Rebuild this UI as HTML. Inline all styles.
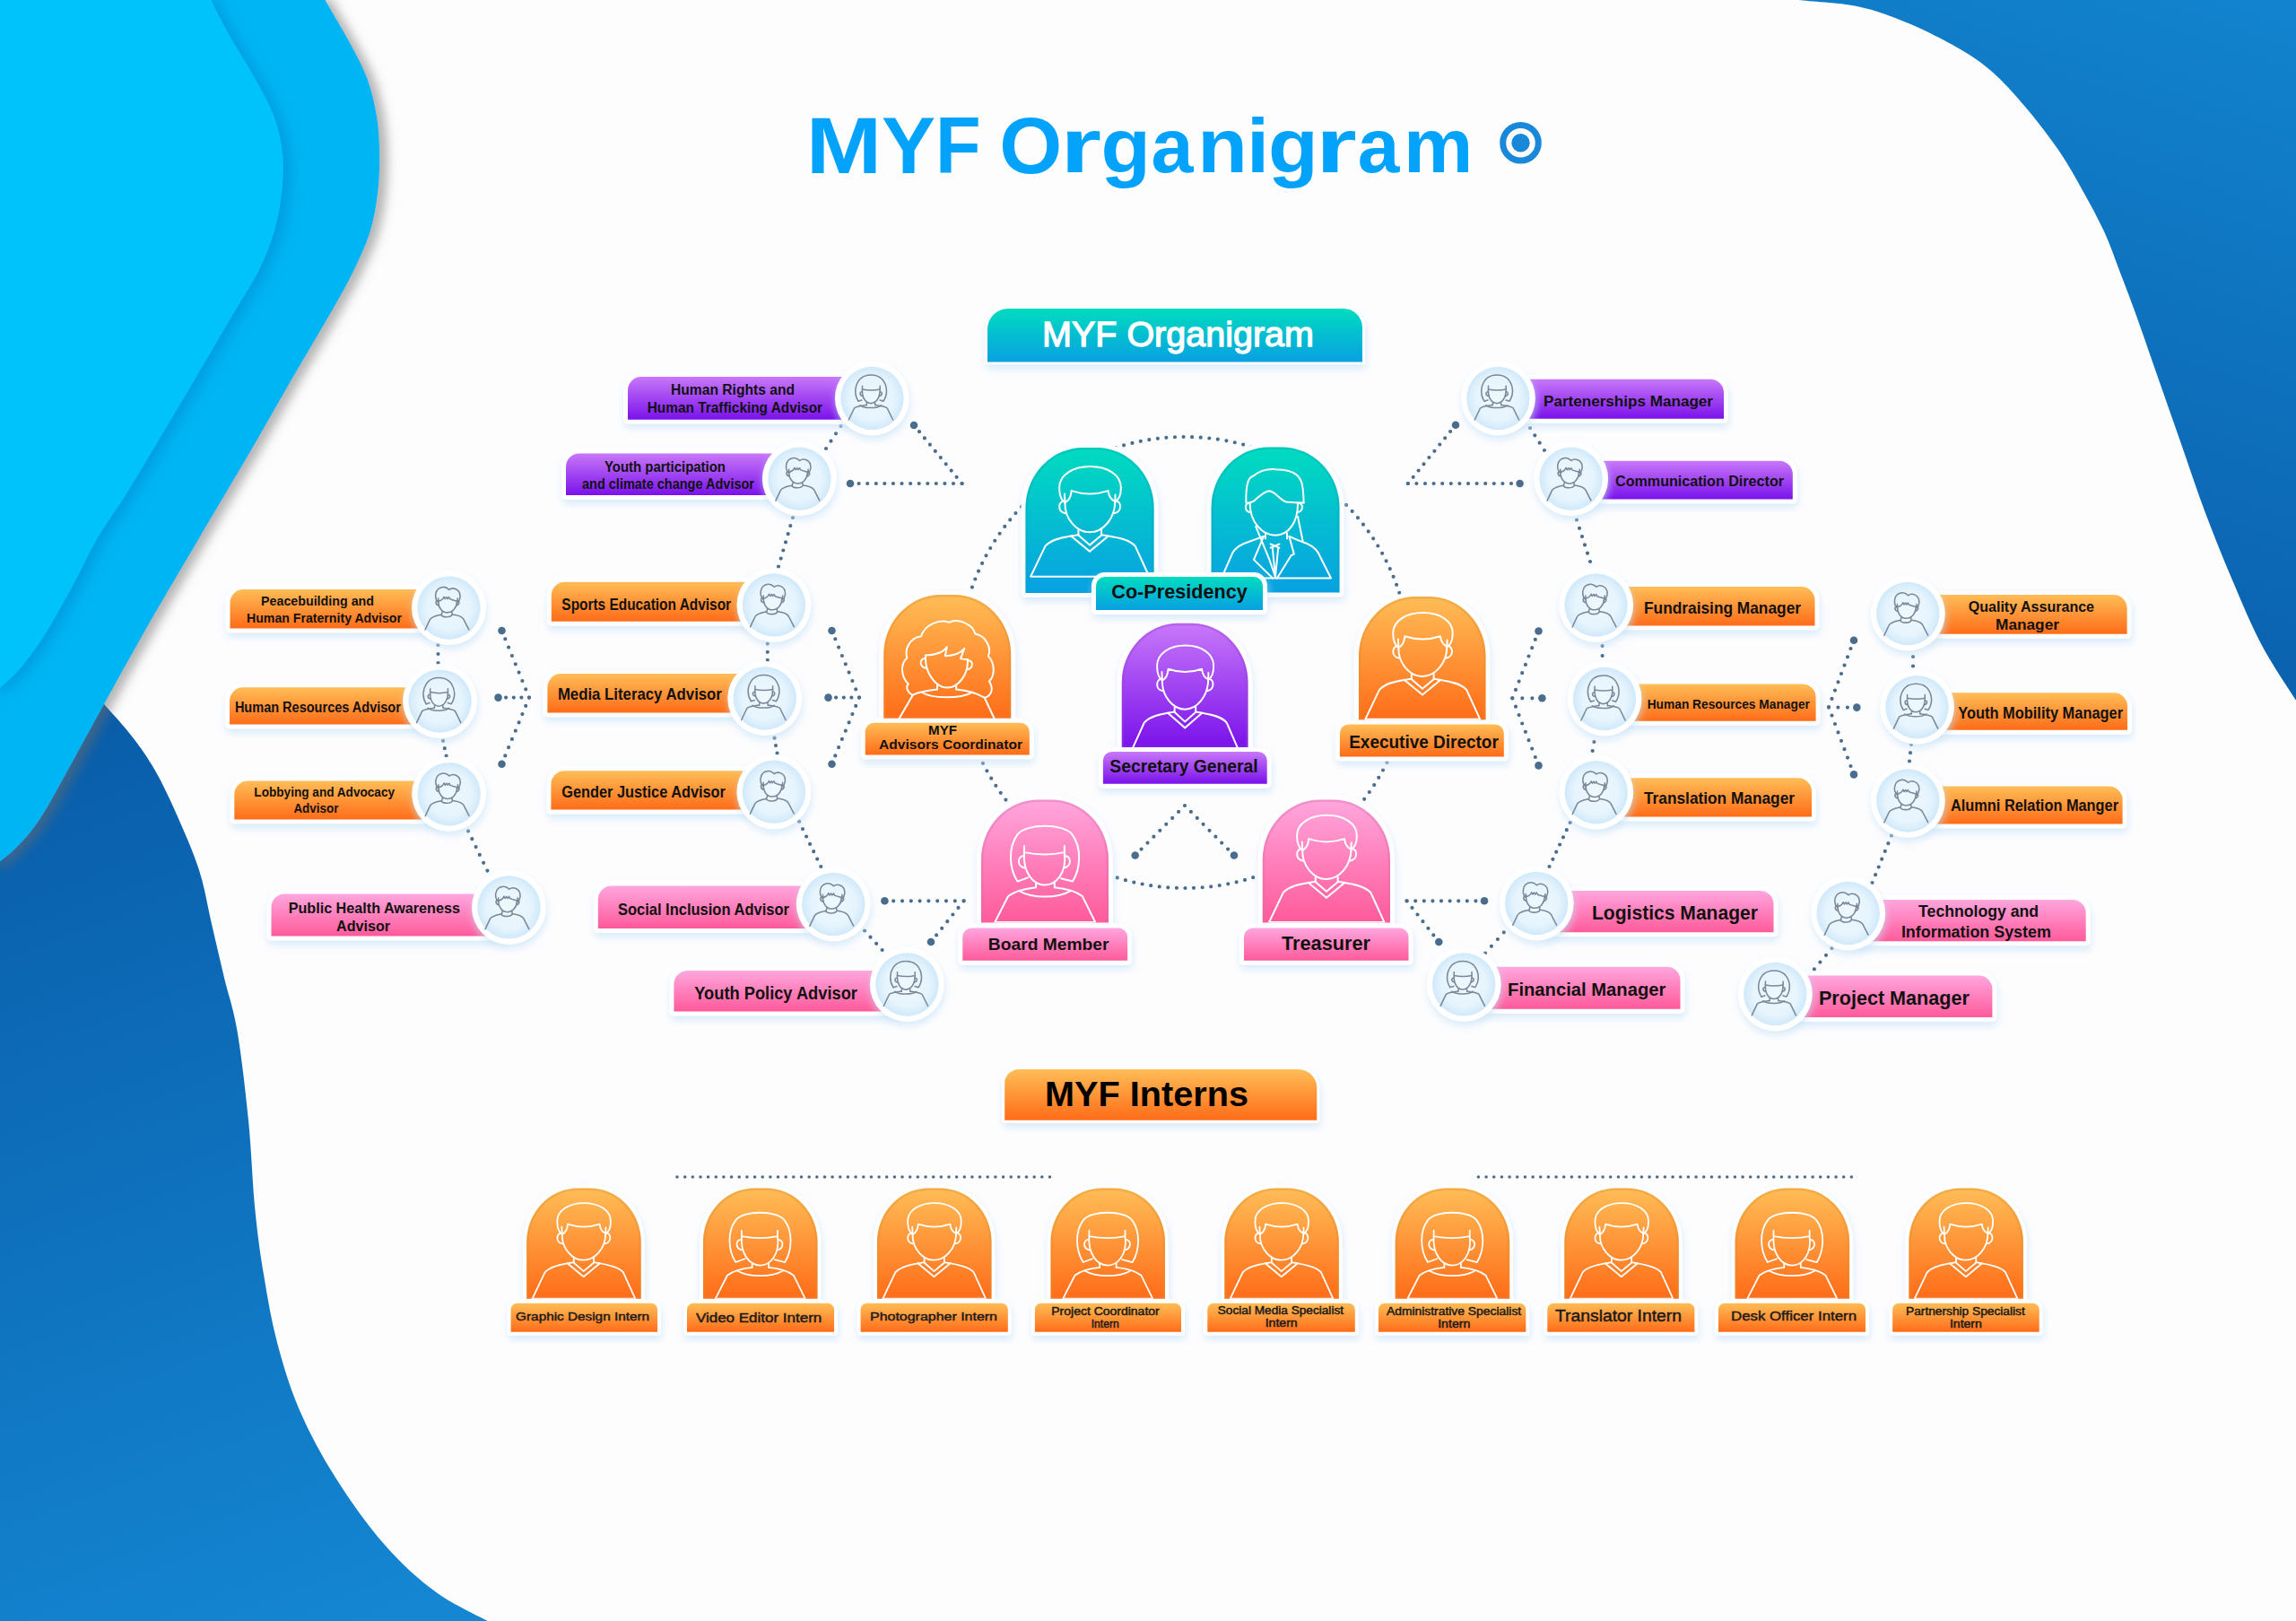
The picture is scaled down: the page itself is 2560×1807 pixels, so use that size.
<!DOCTYPE html>
<html><head><meta charset="utf-8"><title>MYF Organigram</title>
<style>html,body{margin:0;padding:0;background:#fdfdfe;overflow:hidden}svg{display:block}
text{font-family:"Liberation Sans",sans-serif}</style></head>
<body>
<svg width="2560" height="1807" viewBox="0 0 2560 1807">
<defs><linearGradient id="g_teal" x1="0" y1="0" x2="0" y2="1"><stop offset="0" stop-color="#00dcbf"/><stop offset="1" stop-color="#08a0e2"/></linearGradient><linearGradient id="g_orange" x1="0" y1="0" x2="0" y2="1"><stop offset="0" stop-color="#ffbd57"/><stop offset="1" stop-color="#ff6c18"/></linearGradient><linearGradient id="g_purple" x1="0" y1="0" x2="0" y2="1"><stop offset="0" stop-color="#c878fa"/><stop offset="1" stop-color="#7a12ea"/></linearGradient><linearGradient id="g_pink" x1="0" y1="0" x2="0" y2="1"><stop offset="0" stop-color="#ffa6de"/><stop offset="1" stop-color="#ff5a9a"/></linearGradient><linearGradient id="g_dark" x1="0" y1="700" x2="420" y2="1807" gradientUnits="userSpaceOnUse"><stop offset="0" stop-color="#0858a4"/><stop offset="1" stop-color="#1486d2"/></linearGradient><linearGradient id="g_right" x1="2560" y1="0" x2="2300" y2="780" gradientUnits="userSpaceOnUse"><stop offset="0" stop-color="#1284cf"/><stop offset="1" stop-color="#0a5eab"/></linearGradient><radialGradient id="g_circ" cx="0.5" cy="0.5" r="0.5"><stop offset="0" stop-color="#eef8fe"/><stop offset="0.7" stop-color="#e6f4fd"/><stop offset="1" stop-color="#d0e9fa"/></radialGradient><filter id="sh_grey" x="-20%" y="-5%" width="140%" height="110%"><feDropShadow dx="9" dy="3" stdDeviation="6" flood-color="#6a6a6a" flood-opacity="0.5"/></filter><filter id="sh_blue" x="-20%" y="-5%" width="140%" height="110%"><feDropShadow dx="8" dy="3" stdDeviation="8" flood-color="#0078c0" flood-opacity="0.4"/></filter><filter id="sh_card" x="-20%" y="-30%" width="140%" height="170%"><feDropShadow dx="1" dy="5" stdDeviation="4" flood-color="#c6e2f7" flood-opacity="0.65"/></filter></defs>
<rect width="2560" height="1807" fill="#fdfdfe"/>
<path d="M2005.9,-2 C2005.9,-1.7 1994.8,-1.6 2005.9,0 C2017,1.6 2052.2,3.1 2072.5,7.4 C2092.8,11.7 2109.5,18.2 2128,25.9 C2146.5,33.6 2168.2,44.8 2183.6,53.7 C2199,62.7 2208.3,68.8 2220.6,79.6 C2232.9,90.4 2245.2,104 2257.6,118.5 C2269.9,133 2283.9,150.9 2294.7,166.6 C2305.5,182.3 2313.8,197.5 2322.4,212.9 C2331,228.3 2339.6,243.9 2346.5,259.1 C2353.4,274.3 2358.3,289.2 2364,304 C2369.7,318.8 2373.5,328.3 2380.6,348 C2387.7,367.7 2397.9,397.3 2406.5,422 C2415.1,446.7 2423.8,471.3 2432.4,496 C2441,520.7 2449.1,545.3 2458.3,570 C2467.6,594.7 2477.4,619.3 2487.9,644 C2498.4,668.7 2509.2,695.2 2521.2,718 C2533.2,740.8 2551.9,768 2560,780.8 C2568.1,793.6 2568.3,792.6 2570,795 L2570,-2 Z" fill="url(#g_right)"/>
<path d="M0,640 C11.7,655.8 50.7,710.8 70,735 C89.3,759.2 103,770.5 116,785 C129,799.5 138.5,809.7 148,822 C157.5,834.3 164.8,844.7 173,859 C181.2,873.3 188.8,889.5 197,908 C205.2,926.5 215.5,949.7 222,970 C228.5,990.3 231.3,1010 236,1030 C240.7,1050 245.2,1070.1 250,1090 C254.8,1109.9 260,1122.8 264.5,1149.3 C269,1175.8 273.7,1215.8 277,1249 C280.3,1282.2 281.5,1319.4 284.4,1348.4 C287.3,1377.4 290.2,1398.1 294.4,1423 C298.5,1447.9 302.7,1472.9 309.3,1497.8 C315.9,1522.7 323.4,1547.5 334.2,1572.4 C345,1597.3 358.2,1622.1 374,1647 C389.8,1671.9 409.6,1700.2 428.7,1721.8 C447.8,1743.4 466.6,1761 488.5,1776.5 C510.4,1792 548.1,1808.6 560,1815 L0,1815 Z" fill="url(#g_dark)"/>
<path d="M362.7,-5 C362.7,-4.2 358.6,-8 362.7,0 C366.8,8 379.8,28.8 387.5,43.2 C395.2,57.6 403.6,72 409,86.4 C414.4,100.8 417.6,115.2 420,129.6 C422.4,144 423,158.3 423.2,172.7 C423.4,187.1 422.8,201.6 421,216 C419.2,230.4 416.9,244.6 412.4,259 C407.9,273.4 401.4,287.1 394,302.3 C386.6,317.5 379.7,329.6 368,350 C356.3,370.4 338.5,400 324,425 C309.5,450 298,470.8 281,500 C264,529.2 240.8,568 222,600 C203.2,632 185.7,661.2 168,692 C150.3,722.8 131.7,756.8 116,785 C100.3,813.2 85.9,840.2 74,861.5 C62.1,882.8 53.7,899.1 44.4,913 C35.1,926.9 27.1,935.8 18,945 C8.9,954.2 -5.3,964.2 -10,968 L-10,-5 Z" fill="#00b5f4" filter="url(#sh_grey)"/>
<path d="M235.3,-5 C235.3,-4.2 231.5,-8 235.3,0 C239.1,8 249.9,28.8 258,43.2 C266.1,57.6 276,72 283.9,86.4 C291.8,100.8 300.3,115.2 305.5,129.6 C310.7,144 313.8,158.3 315.2,172.7 C316.6,187.1 315.6,201.6 314,216 C312.4,230.4 309.8,244.6 305.5,259 C301.2,273.4 295.8,287.1 288.2,302.3 C280.6,317.5 272,329.6 260,350 C248,370.4 230.8,400 216,425 C201.2,450 184.1,478.8 171.4,500 C158.7,521.2 150.5,535.3 140,552 C129.5,568.7 118.6,582.8 108.6,600 C98.6,617.2 89.9,636.9 80,655 C70.1,673.1 59.3,693.1 49.3,708.6 C39.3,724.1 29.9,736.9 20,748 C10.1,759.1 -5,770.5 -10,775 L-10,-5 Z" fill="#00c3fb" filter="url(#sh_blue)"/>
<text x="940.9" y="192.5" font-family="Liberation Sans" font-size="89.3" font-weight="bold" fill="#03a3fc" text-anchor="middle" textLength="84.4" lengthAdjust="spacingAndGlyphs">M</text>
<text x="1013.1" y="192.5" font-family="Liberation Sans" font-size="89.3" font-weight="bold" fill="#03a3fc" text-anchor="middle" textLength="60" lengthAdjust="spacingAndGlyphs">Y</text>
<text x="1068.3" y="192.5" font-family="Liberation Sans" font-size="89.3" font-weight="bold" fill="#03a3fc" text-anchor="middle" textLength="50.6" lengthAdjust="spacingAndGlyphs">F</text>
<text x="1149.2" y="192.5" font-family="Liberation Sans" font-size="89.3" font-weight="bold" fill="#03a3fc" text-anchor="middle" textLength="70" lengthAdjust="spacingAndGlyphs">O</text>
<text x="1205.2" y="192.5" font-family="Liberation Sans" font-size="89.3" font-weight="bold" fill="#03a3fc" text-anchor="middle" textLength="45.8" lengthAdjust="spacingAndGlyphs" transform="translate(0,192.5) scale(1,0.953) translate(0,-192.5)">r</text>
<text x="1255.3" y="192.5" font-family="Liberation Sans" font-size="89.3" font-weight="bold" fill="#03a3fc" text-anchor="middle" textLength="55.4" lengthAdjust="spacingAndGlyphs" transform="translate(0,192.5) scale(1,0.953) translate(0,-192.5)">g</text>
<text x="1307.1" y="192.5" font-family="Liberation Sans" font-size="89.3" font-weight="bold" fill="#03a3fc" text-anchor="middle" textLength="47" lengthAdjust="spacingAndGlyphs" transform="translate(0,192.5) scale(1,0.953) translate(0,-192.5)">a</text>
<text x="1363" y="192.5" font-family="Liberation Sans" font-size="89.3" font-weight="bold" fill="#03a3fc" text-anchor="middle" textLength="55.7" lengthAdjust="spacingAndGlyphs" transform="translate(0,192.5) scale(1,0.953) translate(0,-192.5)">n</text>
<text x="1402.5" y="192.5" font-family="Liberation Sans" font-size="89.3" font-weight="bold" fill="#03a3fc" text-anchor="middle" textLength="25.1" lengthAdjust="spacingAndGlyphs" transform="translate(0,192.5) scale(1,0.953) translate(0,-192.5)">i</text>
<text x="1441.8" y="192.5" font-family="Liberation Sans" font-size="89.3" font-weight="bold" fill="#03a3fc" text-anchor="middle" textLength="55.8" lengthAdjust="spacingAndGlyphs" transform="translate(0,192.5) scale(1,0.953) translate(0,-192.5)">g</text>
<text x="1489.8" y="192.5" font-family="Liberation Sans" font-size="89.3" font-weight="bold" fill="#03a3fc" text-anchor="middle" textLength="45.8" lengthAdjust="spacingAndGlyphs" transform="translate(0,192.5) scale(1,0.953) translate(0,-192.5)">r</text>
<text x="1537" y="192.5" font-family="Liberation Sans" font-size="89.3" font-weight="bold" fill="#03a3fc" text-anchor="middle" textLength="46.6" lengthAdjust="spacingAndGlyphs" transform="translate(0,192.5) scale(1,0.953) translate(0,-192.5)">a</text>
<text x="1603.7" y="192.5" font-family="Liberation Sans" font-size="89.3" font-weight="bold" fill="#03a3fc" text-anchor="middle" textLength="77.3" lengthAdjust="spacingAndGlyphs" transform="translate(0,192.5) scale(1,0.953) translate(0,-192.5)">m</text>
<circle cx="1695.5" cy="159.2" r="19.8" fill="none" stroke="#1a88d8" stroke-width="7"/>
<circle cx="1695.5" cy="159.2" r="10.2" fill="#1a88d8"/>
<circle cx="1321" cy="738.5" r="251.5" fill="none" stroke="#4a6d8e" stroke-width="4.2" stroke-linecap="round" stroke-dasharray="0 9.62"/>
<path d="M1265.7,953.5h0M1272.6,946.6h0M1279.5,939.6h0M1286.4,932.7h0M1293.3,925.8h0M1300.3,918.8h0M1307.2,911.9h0M1314.1,904.9h0M1321,898h0M1327.9,904.9h0M1334.8,911.9h0M1341.6,918.8h0M1348.5,925.8h0M1355.4,932.7h0M1362.2,939.6h0M1369.1,946.6h0M1376,953.5h0" fill="none" stroke="#4a6d8e" stroke-width="4.2" stroke-linecap="round"/>
<circle cx="1265.7" cy="953.5" r="4.3" fill="#4a6d8e"/>
<circle cx="1376" cy="953.5" r="4.3" fill="#4a6d8e"/>
<path d="M1019,474h0M1025,481.2h0M1030.9,488.4h0M1036.9,495.7h0M1042.8,502.9h0M1048.8,510.1h0M1054.7,517.3h0M1060.7,524.6h0M1066.6,531.8h0M1072.6,539h0" fill="none" stroke="#4a6d8e" stroke-width="4.2" stroke-linecap="round"/>
<circle cx="1019" cy="474" r="4.3" fill="#4a6d8e"/>
<path d="M948,539h0M957.6,539h0M967.2,539h0M976.8,539h0M986.3,539h0M995.9,539h0M1005.5,539h0M1015.1,539h0M1024.7,539h0M1034.3,539h0M1043.8,539h0M1053.4,539h0M1063,539h0M1072.6,539h0" fill="none" stroke="#4a6d8e" stroke-width="4.2" stroke-linecap="round"/>
<circle cx="948" cy="539" r="4.3" fill="#4a6d8e"/>
<path d="M937.5,475h0M932,483.3h0M926.5,491.7h0M921,500h0" fill="none" stroke="#4a6d8e" stroke-width="4.2" stroke-linecap="round"/>
<path d="M884,577h0M881.3,586.1h0M878.7,595.2h0M876,604.4h0M873.3,613.5h0M870.7,622.6h0M868,631.7h0" fill="none" stroke="#4a6d8e" stroke-width="4.2" stroke-linecap="round"/>
<path d="M1623,473.8h0M1617.1,481h0M1611.2,488.3h0M1605.3,495.5h0M1599.4,502.8h0M1593.4,510h0M1587.5,517.3h0M1581.6,524.5h0M1575.7,531.8h0M1569.8,539h0" fill="none" stroke="#4a6d8e" stroke-width="4.2" stroke-linecap="round"/>
<circle cx="1623" cy="473.8" r="4.3" fill="#4a6d8e"/>
<path d="M1569.8,539h0M1579.4,539h0M1589,539h0M1598.6,539h0M1608.2,539h0M1617.8,539h0M1627.4,539h0M1637,539h0M1646.6,539h0M1656.2,539h0M1665.8,539h0M1675.4,539h0M1685,539h0M1694.6,539h0" fill="none" stroke="#4a6d8e" stroke-width="4.2" stroke-linecap="round"/>
<circle cx="1694.6" cy="539" r="4.3" fill="#4a6d8e"/>
<path d="M1706,477h0M1711.3,485.3h0M1716.7,493.7h0M1722,502h0" fill="none" stroke="#4a6d8e" stroke-width="4.2" stroke-linecap="round"/>
<path d="M1758,579.5h0M1761,588.8h0M1764,598.1h0M1767,607.4h0M1770,616.7h0M1773,626h0" fill="none" stroke="#4a6d8e" stroke-width="4.2" stroke-linecap="round"/>
<path d="M559.5,703h0M563.3,712.3h0M567.1,721.6h0M570.9,731h0M574.8,740.3h0M578.6,749.6h0M582.4,759h0M586.2,768.3h0M590,777.6h0M586.2,786.9h0M582.4,796.1h0M578.6,805.4h0M574.8,814.7h0M570.9,823.9h0M567.1,833.2h0M563.3,842.4h0M559.5,851.7h0" fill="none" stroke="#4a6d8e" stroke-width="4.2" stroke-linecap="round"/>
<circle cx="559.5" cy="703" r="4.3" fill="#4a6d8e"/>
<circle cx="559.5" cy="851.7" r="4.3" fill="#4a6d8e"/>
<path d="M555.5,777.6h0M564.1,777.6h0M572.8,777.6h0M581.4,777.6h0M590,777.6h0" fill="none" stroke="#4a6d8e" stroke-width="4.2" stroke-linecap="round"/>
<circle cx="555.5" cy="777.6" r="4.3" fill="#4a6d8e"/>
<path d="M927.5,703h0M931.3,712.3h0M935.1,721.6h0M938.9,731h0M942.8,740.3h0M946.6,749.6h0M950.4,759h0M954.2,768.3h0M958,777.6h0M954.2,786.9h0M950.4,796.1h0M946.6,805.4h0M942.8,814.7h0M938.9,823.9h0M935.1,833.2h0M931.3,842.4h0M927.5,851.7h0" fill="none" stroke="#4a6d8e" stroke-width="4.2" stroke-linecap="round"/>
<circle cx="927.5" cy="703" r="4.3" fill="#4a6d8e"/>
<circle cx="927.5" cy="851.7" r="4.3" fill="#4a6d8e"/>
<path d="M923.5,777.6h0M932.1,777.6h0M940.8,777.6h0M949.4,777.6h0M958,777.6h0" fill="none" stroke="#4a6d8e" stroke-width="4.2" stroke-linecap="round"/>
<circle cx="923.5" cy="777.6" r="4.3" fill="#4a6d8e"/>
<path d="M488.5,719h0M488.5,729h0M488.5,739h0" fill="none" stroke="#4a6d8e" stroke-width="4.2" stroke-linecap="round"/>
<path d="M494,825.8h0M495.8,834.2h0M497.6,842.6h0" fill="none" stroke="#4a6d8e" stroke-width="4.2" stroke-linecap="round"/>
<path d="M855.8,717.6h0M855.8,726.8h0M855.8,735.9h0" fill="none" stroke="#4a6d8e" stroke-width="4.2" stroke-linecap="round"/>
<path d="M863.5,822.7h0M865,831.1h0M866.5,839.5h0" fill="none" stroke="#4a6d8e" stroke-width="4.2" stroke-linecap="round"/>
<path d="M522,926.4h0M526.3,935.2h0M530.6,944.1h0M534.8,952.9h0M539.1,961.8h0M543.4,970.6h0" fill="none" stroke="#4a6d8e" stroke-width="4.2" stroke-linecap="round"/>
<path d="M891,915.7h0M895,924.1h0M899.1,932.5h0M903.1,940.9h0M907.2,949.2h0M911.2,957.6h0M915.3,966h0" fill="none" stroke="#4a6d8e" stroke-width="4.2" stroke-linecap="round"/>
<path d="M964,1037.5h0M970.5,1044.7h0M977.1,1051.8h0M983.6,1059h0" fill="none" stroke="#4a6d8e" stroke-width="4.2" stroke-linecap="round"/>
<path d="M986.4,1004.3h0M996.2,1004.3h0M1006,1004.3h0M1015.8,1004.3h0M1025.6,1004.3h0M1035.4,1004.3h0M1045.2,1004.3h0M1055,1004.3h0M1064.8,1004.3h0M1074.6,1004.3h0" fill="none" stroke="#4a6d8e" stroke-width="4.2" stroke-linecap="round"/>
<circle cx="986.4" cy="1004.3" r="4.3" fill="#4a6d8e"/>
<path d="M1074.6,1004.3h0M1068.5,1011.9h0M1062.4,1019.5h0M1056.3,1027.2h0M1050.2,1034.8h0M1044.1,1042.4h0M1038,1050h0" fill="none" stroke="#4a6d8e" stroke-width="4.2" stroke-linecap="round"/>
<circle cx="1038" cy="1050" r="4.3" fill="#4a6d8e"/>
<path d="M1715.5,703.5h0M1711.8,712.9h0M1708.2,722.2h0M1704.5,731.5h0M1700.9,740.9h0M1697.2,750.2h0M1693.6,759.6h0M1690,768.9h0M1686.3,778.3h0M1690,787.7h0M1693.6,797.1h0M1697.2,806.5h0M1700.9,815.8h0M1704.5,825.2h0M1708.2,834.6h0M1711.8,844h0M1715.5,853.4h0" fill="none" stroke="#4a6d8e" stroke-width="4.2" stroke-linecap="round"/>
<circle cx="1715.5" cy="703.5" r="4.3" fill="#4a6d8e"/>
<circle cx="1715.5" cy="853.4" r="4.3" fill="#4a6d8e"/>
<path d="M1686.3,778.3h0M1697.3,778.3h0M1708.4,778.3h0M1719.4,778.3h0" fill="none" stroke="#4a6d8e" stroke-width="4.2" stroke-linecap="round"/>
<circle cx="1719.4" cy="778.3" r="4.3" fill="#4a6d8e"/>
<path d="M2067,713.7h0M2063.5,723h0M2060,732.3h0M2056.5,741.6h0M2053,751h0M2049.5,760.3h0M2046,769.6h0M2042.5,778.9h0M2039,788.2h0M2042.5,797.6h0M2046,807h0M2049.5,816.4h0M2053,825.8h0M2056.5,835.2h0M2060,844.6h0M2063.5,854h0M2067,863.4h0" fill="none" stroke="#4a6d8e" stroke-width="4.2" stroke-linecap="round"/>
<circle cx="2067" cy="713.7" r="4.3" fill="#4a6d8e"/>
<circle cx="2067" cy="863.4" r="4.3" fill="#4a6d8e"/>
<path d="M2039,788.6h0M2049.4,788.6h0M2059.9,788.6h0M2070.3,788.6h0" fill="none" stroke="#4a6d8e" stroke-width="4.2" stroke-linecap="round"/>
<circle cx="2070.3" cy="788.6" r="4.3" fill="#4a6d8e"/>
<path d="M1786.6,720h0M1786.6,731h0" fill="none" stroke="#4a6d8e" stroke-width="4.2" stroke-linecap="round"/>
<path d="M1777.4,827h0M1775.7,837h0" fill="none" stroke="#4a6d8e" stroke-width="4.2" stroke-linecap="round"/>
<path d="M2133,732h0M2133,742.5h0" fill="none" stroke="#4a6d8e" stroke-width="4.2" stroke-linecap="round"/>
<path d="M2131,830h0M2130,839.2h0M2129,848.5h0" fill="none" stroke="#4a6d8e" stroke-width="4.2" stroke-linecap="round"/>
<path d="M1750.7,917h0M1746.8,925.2h0M1743,933.3h0M1739.1,941.5h0M1735.2,949.7h0M1731.4,957.8h0M1727.5,966h0" fill="none" stroke="#4a6d8e" stroke-width="4.2" stroke-linecap="round"/>
<path d="M2109,931.4h0M2105.4,940.2h0M2101.8,948.9h0M2098.2,957.7h0M2094.7,966.5h0M2091.1,975.2h0M2087.5,984h0" fill="none" stroke="#4a6d8e" stroke-width="4.2" stroke-linecap="round"/>
<path d="M1676.8,1039.3h0M1669.9,1047h0M1662.9,1054.8h0M1656,1062.5h0" fill="none" stroke="#4a6d8e" stroke-width="4.2" stroke-linecap="round"/>
<path d="M2042.5,1057h0M2036,1064.8h0M2029.4,1072.6h0M2022.9,1080.4h0" fill="none" stroke="#4a6d8e" stroke-width="4.2" stroke-linecap="round"/>
<path d="M1568.6,1004.3h0M1578.2,1004.3h0M1587.8,1004.3h0M1597.4,1004.3h0M1607,1004.3h0M1616.6,1004.3h0M1626.2,1004.3h0M1635.8,1004.3h0M1645.4,1004.3h0M1655,1004.3h0" fill="none" stroke="#4a6d8e" stroke-width="4.2" stroke-linecap="round"/>
<circle cx="1655" cy="1004.3" r="4.3" fill="#4a6d8e"/>
<path d="M1568.6,1004.3h0M1574.5,1011.9h0M1580.5,1019.5h0M1586.4,1027.2h0M1592.4,1034.8h0M1598.3,1042.4h0M1604.3,1050h0" fill="none" stroke="#4a6d8e" stroke-width="4.2" stroke-linecap="round"/>
<circle cx="1604.3" cy="1050" r="4.3" fill="#4a6d8e"/>
<path d="M755,1312h0M763.7,1312h0M772.3,1312h0M781,1312h0M789.6,1312h0M798.3,1312h0M806.9,1312h0M815.6,1312h0M824.2,1312h0M832.9,1312h0M841.6,1312h0M850.2,1312h0M858.9,1312h0M867.5,1312h0M876.2,1312h0M884.8,1312h0M893.5,1312h0M902.2,1312h0M910.8,1312h0M919.5,1312h0M928.1,1312h0M936.8,1312h0M945.4,1312h0M954.1,1312h0M962.8,1312h0M971.4,1312h0M980.1,1312h0M988.7,1312h0M997.4,1312h0M1006,1312h0M1014.7,1312h0M1023.3,1312h0M1032,1312h0M1040.7,1312h0M1049.3,1312h0M1058,1312h0M1066.6,1312h0M1075.3,1312h0M1083.9,1312h0M1092.6,1312h0M1101.2,1312h0M1109.9,1312h0M1118.6,1312h0M1127.2,1312h0M1135.9,1312h0M1144.5,1312h0M1153.2,1312h0M1161.8,1312h0M1170.5,1312h0" fill="none" stroke="#4a6d8e" stroke-width="3.6" stroke-linecap="round"/>
<path d="M1648.4,1312h0M1657.1,1312h0M1665.7,1312h0M1674.4,1312h0M1683.1,1312h0M1691.7,1312h0M1700.4,1312h0M1709.1,1312h0M1717.7,1312h0M1726.4,1312h0M1735.1,1312h0M1743.7,1312h0M1752.4,1312h0M1761.1,1312h0M1769.7,1312h0M1778.4,1312h0M1787.1,1312h0M1795.7,1312h0M1804.4,1312h0M1813.1,1312h0M1821.7,1312h0M1830.4,1312h0M1839.1,1312h0M1847.7,1312h0M1856.4,1312h0M1865.1,1312h0M1873.7,1312h0M1882.4,1312h0M1891.1,1312h0M1899.7,1312h0M1908.4,1312h0M1917.1,1312h0M1925.7,1312h0M1934.4,1312h0M1943.1,1312h0M1951.7,1312h0M1960.4,1312h0M1969.1,1312h0M1977.7,1312h0M1986.4,1312h0M1995.1,1312h0M2003.7,1312h0M2012.4,1312h0M2021.1,1312h0M2029.7,1312h0M2038.4,1312h0M2047.1,1312h0M2055.7,1312h0M2064.4,1312h0" fill="none" stroke="#4a6d8e" stroke-width="3.6" stroke-linecap="round"/>
<path d="M700,467.7 L700,435 A15,15 0 0 1 715,420 L960,420 L960,467.7 Z" fill="#ffffff" stroke="#ffffff" stroke-width="10" stroke-linejoin="round" filter="url(#sh_card)"/>
<path d="M700,467.7 L700,435 A15,15 0 0 1 715,420 L960,420 L960,467.7 Z" fill="url(#g_purple)"/>
<path d="M631,552 L631,520.4 A15,15 0 0 1 646,505.4 L880,505.4 L880,552 Z" fill="#ffffff" stroke="#ffffff" stroke-width="10" stroke-linejoin="round" filter="url(#sh_card)"/>
<path d="M631,552 L631,520.4 A15,15 0 0 1 646,505.4 L880,505.4 L880,552 Z" fill="url(#g_purple)"/>
<path d="M614.8,692.7 L614.8,663.7 A15,15 0 0 1 629.8,648.7 L850,648.7 L850,692.7 Z" fill="#ffffff" stroke="#ffffff" stroke-width="10" stroke-linejoin="round" filter="url(#sh_card)"/>
<path d="M614.8,692.7 L614.8,663.7 A15,15 0 0 1 629.8,648.7 L850,648.7 L850,692.7 Z" fill="url(#g_orange)"/>
<path d="M610.4,794.4 L610.4,766 A15,15 0 0 1 625.4,751 L840,751 L840,794.4 Z" fill="#ffffff" stroke="#ffffff" stroke-width="10" stroke-linejoin="round" filter="url(#sh_card)"/>
<path d="M610.4,794.4 L610.4,766 A15,15 0 0 1 625.4,751 L840,751 L840,794.4 Z" fill="url(#g_orange)"/>
<path d="M614.4,902.6 L614.4,874.3 A15,15 0 0 1 629.4,859.3 L850,859.3 L850,902.6 Z" fill="#ffffff" stroke="#ffffff" stroke-width="10" stroke-linejoin="round" filter="url(#sh_card)"/>
<path d="M614.4,902.6 L614.4,874.3 A15,15 0 0 1 629.4,859.3 L850,859.3 L850,902.6 Z" fill="url(#g_orange)"/>
<path d="M256.5,700.5 L256.5,672 A15,15 0 0 1 271.5,657 L490,657 L490,700.5 Z" fill="#ffffff" stroke="#ffffff" stroke-width="10" stroke-linejoin="round" filter="url(#sh_card)"/>
<path d="M256.5,700.5 L256.5,672 A15,15 0 0 1 271.5,657 L490,657 L490,700.5 Z" fill="url(#g_orange)"/>
<path d="M256,807.5 L256,781.3 A15,15 0 0 1 271,766.3 L480,766.3 L480,807.5 Z" fill="#ffffff" stroke="#ffffff" stroke-width="10" stroke-linejoin="round" filter="url(#sh_card)"/>
<path d="M256,807.5 L256,781.3 A15,15 0 0 1 271,766.3 L480,766.3 L480,807.5 Z" fill="url(#g_orange)"/>
<path d="M261.3,913.6 L261.3,885.6 A15,15 0 0 1 276.3,870.6 L490,870.6 L490,913.6 Z" fill="#ffffff" stroke="#ffffff" stroke-width="10" stroke-linejoin="round" filter="url(#sh_card)"/>
<path d="M261.3,913.6 L261.3,885.6 A15,15 0 0 1 276.3,870.6 L490,870.6 L490,913.6 Z" fill="url(#g_orange)"/>
<path d="M302.5,1043.6 L302.5,1011.4 A15,15 0 0 1 317.5,996.4 L560,996.4 L560,1043.6 Z" fill="#ffffff" stroke="#ffffff" stroke-width="10" stroke-linejoin="round" filter="url(#sh_card)"/>
<path d="M302.5,1043.6 L302.5,1011.4 A15,15 0 0 1 317.5,996.4 L560,996.4 L560,1043.6 Z" fill="url(#g_pink)"/>
<path d="M666.8,1035 L666.8,1002.5 A15,15 0 0 1 681.8,987.5 L920,987.5 L920,1035 Z" fill="#ffffff" stroke="#ffffff" stroke-width="10" stroke-linejoin="round" filter="url(#sh_card)"/>
<path d="M666.8,1035 L666.8,1002.5 A15,15 0 0 1 681.8,987.5 L920,987.5 L920,1035 Z" fill="url(#g_pink)"/>
<path d="M751.4,1127.5 L751.4,1097 A15,15 0 0 1 766.4,1082 L1000,1082 L1000,1127.5 Z" fill="#ffffff" stroke="#ffffff" stroke-width="10" stroke-linejoin="round" filter="url(#sh_card)"/>
<path d="M751.4,1127.5 L751.4,1097 A15,15 0 0 1 766.4,1082 L1000,1082 L1000,1127.5 Z" fill="url(#g_pink)"/>
<path d="M1680,466.7 L1680,422.7 L1907,422.7 A15,15 0 0 1 1922,437.7 L1922,466.7 Z" fill="#ffffff" stroke="#ffffff" stroke-width="10" stroke-linejoin="round" filter="url(#sh_card)"/>
<path d="M1680,466.7 L1680,422.7 L1907,422.7 A15,15 0 0 1 1922,437.7 L1922,466.7 Z" fill="url(#g_purple)"/>
<path d="M1760,556.6 L1760,513.7 L1983.8,513.7 A15,15 0 0 1 1998.8,528.7 L1998.8,556.6 Z" fill="#ffffff" stroke="#ffffff" stroke-width="10" stroke-linejoin="round" filter="url(#sh_card)"/>
<path d="M1760,556.6 L1760,513.7 L1983.8,513.7 A15,15 0 0 1 1998.8,528.7 L1998.8,556.6 Z" fill="url(#g_purple)"/>
<path d="M1790,697.5 L1790,654 L2008.5,654 A15,15 0 0 1 2023.5,669 L2023.5,697.5 Z" fill="#ffffff" stroke="#ffffff" stroke-width="10" stroke-linejoin="round" filter="url(#sh_card)"/>
<path d="M1790,697.5 L1790,654 L2008.5,654 A15,15 0 0 1 2023.5,669 L2023.5,697.5 Z" fill="url(#g_orange)"/>
<path d="M1800,803.8 L1800,762.4 L2009.6,762.4 A15,15 0 0 1 2024.6,777.4 L2024.6,803.8 Z" fill="#ffffff" stroke="#ffffff" stroke-width="10" stroke-linejoin="round" filter="url(#sh_card)"/>
<path d="M1800,803.8 L1800,762.4 L2009.6,762.4 A15,15 0 0 1 2024.6,777.4 L2024.6,803.8 Z" fill="url(#g_orange)"/>
<path d="M1790,910.4 L1790,867.3 L2005,867.3 A15,15 0 0 1 2020,882.3 L2020,910.4 Z" fill="#ffffff" stroke="#ffffff" stroke-width="10" stroke-linejoin="round" filter="url(#sh_card)"/>
<path d="M1790,910.4 L1790,867.3 L2005,867.3 A15,15 0 0 1 2020,882.3 L2020,910.4 Z" fill="url(#g_orange)"/>
<path d="M2140,706.8 L2140,663 L2356.6,663 A15,15 0 0 1 2371.6,678 L2371.6,706.8 Z" fill="#ffffff" stroke="#ffffff" stroke-width="10" stroke-linejoin="round" filter="url(#sh_card)"/>
<path d="M2140,706.8 L2140,663 L2356.6,663 A15,15 0 0 1 2371.6,678 L2371.6,706.8 Z" fill="url(#g_orange)"/>
<path d="M2150,813.7 L2150,772.3 L2357,772.3 A15,15 0 0 1 2372,787.3 L2372,813.7 Z" fill="#ffffff" stroke="#ffffff" stroke-width="10" stroke-linejoin="round" filter="url(#sh_card)"/>
<path d="M2150,813.7 L2150,772.3 L2357,772.3 A15,15 0 0 1 2372,787.3 L2372,813.7 Z" fill="url(#g_orange)"/>
<path d="M2140,918.6 L2140,876.6 L2351.6,876.6 A15,15 0 0 1 2366.6,891.6 L2366.6,918.6 Z" fill="#ffffff" stroke="#ffffff" stroke-width="10" stroke-linejoin="round" filter="url(#sh_card)"/>
<path d="M2140,918.6 L2140,876.6 L2351.6,876.6 A15,15 0 0 1 2366.6,891.6 L2366.6,918.6 Z" fill="url(#g_orange)"/>
<path d="M1725,1039.3 L1725,992.9 L1962.5,992.9 A15,15 0 0 1 1977.5,1007.9 L1977.5,1039.3 Z" fill="#ffffff" stroke="#ffffff" stroke-width="10" stroke-linejoin="round" filter="url(#sh_card)"/>
<path d="M1725,1039.3 L1725,992.9 L1962.5,992.9 A15,15 0 0 1 1977.5,1007.9 L1977.5,1039.3 Z" fill="url(#g_pink)"/>
<path d="M1645,1124.7 L1645,1077.7 L1858.5,1077.7 A15,15 0 0 1 1873.5,1092.7 L1873.5,1124.7 Z" fill="#ffffff" stroke="#ffffff" stroke-width="10" stroke-linejoin="round" filter="url(#sh_card)"/>
<path d="M1645,1124.7 L1645,1077.7 L1858.5,1077.7 A15,15 0 0 1 1873.5,1092.7 L1873.5,1124.7 Z" fill="url(#g_pink)"/>
<path d="M2070,1049.3 L2070,1002.9 L2310.7,1002.9 A15,15 0 0 1 2325.7,1017.9 L2325.7,1049.3 Z" fill="#ffffff" stroke="#ffffff" stroke-width="10" stroke-linejoin="round" filter="url(#sh_card)"/>
<path d="M2070,1049.3 L2070,1002.9 L2310.7,1002.9 A15,15 0 0 1 2325.7,1017.9 L2325.7,1049.3 Z" fill="url(#g_pink)"/>
<path d="M1990,1134 L1990,1087.5 L2206.4,1087.5 A15,15 0 0 1 2221.4,1102.5 L2221.4,1134 Z" fill="#ffffff" stroke="#ffffff" stroke-width="10" stroke-linejoin="round" filter="url(#sh_card)"/>
<path d="M1990,1134 L1990,1087.5 L2206.4,1087.5 A15,15 0 0 1 2221.4,1102.5 L2221.4,1134 Z" fill="url(#g_pink)"/>
<circle cx="972.4" cy="444" r="41.5" fill="#ffffff" filter="url(#sh_card)"/>
<circle cx="972.4" cy="444" r="35.2" fill="url(#g_circ)"/>
<g transform="translate(971.9,444) scale(1.000,1.000)" fill="none" stroke="#7b8898" stroke-width="1.550" stroke-linecap="round" stroke-linejoin="round"><path d="M-14.9,3.2 C-19.5,-4 -19.5,-14 -13,-21.5 C-7,-27.5 5.5,-27.5 11.5,-21.5 C18,-14 18,-4 13,3.2 L9.2,2"/><path d="M-14.9,3.2 L-11,2"/><path d="M-10.4,-13.8 L-10.4,-10 C-4,-8.6 3,-8.6 9.3,-10 L9.3,-13.8"/><path d="M-10.4,-10 C-11.2,0 -6,5.6 -0.9,5.6 C4.3,5.6 9.5,0 9.3,-10"/><path d="M-10.6,-7.2 C-13.6,-7.6 -14,-3.4 -10.1,-2.4 M9.2,-7.2 C12.2,-7.6 12.4,-3.4 8.6,-2.4"/><path d="M-5.3,4.5 L-5.8,7.6 M3.5,4.5 L4,7.6"/><path d="M-13,7.8 C-8,11.5 6,11.5 10.7,7.8"/><path d="M-5.8,7.6 C-12,8.4 -17,9.2 -19.4,11 L-25.6,24 M4,7.6 C10,8.4 15,9.2 17.3,11 L23.7,24"/></g>
<text x="817" y="440" font-family="Liberation Sans" font-size="15.6" font-weight="bold" fill="#111" text-anchor="middle" textLength="138" lengthAdjust="spacingAndGlyphs">Human Rights and</text>
<text x="819.4" y="460.1" font-family="Liberation Sans" font-size="15.6" font-weight="bold" fill="#111" text-anchor="middle" textLength="195.3" lengthAdjust="spacingAndGlyphs">Human Trafficking Advisor</text>
<circle cx="891.4" cy="533.7" r="41.5" fill="#ffffff" filter="url(#sh_card)"/>
<circle cx="891.4" cy="533.7" r="35.2" fill="url(#g_circ)"/>
<g transform="translate(890.9,533.7) scale(1.000,1.000)" fill="none" stroke="#7b8898" stroke-width="1.550" stroke-linecap="round" stroke-linejoin="round"><path d="M-11.5,-6.5 C-15.5,-10 -16.5,-22 -6,-23.2 C-2.5,-23.6 -0.5,-21.5 0.8,-20.2 C4,-23 13.5,-22 13,-12 C12.8,-9 11.8,-7.5 10,-6"/><path d="M-11.5,-6.5 L-11.3,-10.5 M-11.2,-7.5 C-8,-8 -6,-10 -5,-12.3 L-3.8,-10 L-2.2,-12 L-1,-10 L0.6,-12 L1.8,-9.8 C5,-8.5 8,-8 10,-7.2 L10.2,-10.5"/><path d="M-11.2,-8 C-11.5,0 -7,5.3 -1.2,5.3 C4.5,5.3 9.2,0 9.6,-7.5"/><path d="M-11.4,-8 C-14.6,-9 -15.2,-3.8 -10.8,-2.6 M9.6,-7.8 C12.6,-8.6 12.8,-3.8 8.8,-2.6"/><path d="M-6.8,4 L-7.6,7.6 M3.6,4 L4.3,7.3 M-8.3,7.6 C-6,11 2.5,11 4.4,7.3"/><path d="M-8.3,7.6 C-14,8.6 -18.8,9.6 -20.6,13 L-26,24.4 M4.4,7.3 C10,8 14.8,9.2 16.8,12.5 L22.8,24.2"/></g>
<text x="741.5" y="526.1" font-family="Liberation Sans" font-size="15.6" font-weight="bold" fill="#111" text-anchor="middle" textLength="135" lengthAdjust="spacingAndGlyphs">Youth participation</text>
<text x="745" y="545.2" font-family="Liberation Sans" font-size="15.6" font-weight="bold" fill="#111" text-anchor="middle" textLength="192" lengthAdjust="spacingAndGlyphs">and climate change Advisor</text>
<circle cx="863" cy="674.5" r="41.5" fill="#ffffff" filter="url(#sh_card)"/>
<circle cx="863" cy="674.5" r="35.2" fill="url(#g_circ)"/>
<g transform="translate(862.5,674.5) scale(1.000,1.000)" fill="none" stroke="#7b8898" stroke-width="1.550" stroke-linecap="round" stroke-linejoin="round"><path d="M-11.5,-6.5 C-15.5,-10 -16.5,-22 -6,-23.2 C-2.5,-23.6 -0.5,-21.5 0.8,-20.2 C4,-23 13.5,-22 13,-12 C12.8,-9 11.8,-7.5 10,-6"/><path d="M-11.5,-6.5 L-11.3,-10.5 M-11.2,-7.5 C-8,-8 -6,-10 -5,-12.3 L-3.8,-10 L-2.2,-12 L-1,-10 L0.6,-12 L1.8,-9.8 C5,-8.5 8,-8 10,-7.2 L10.2,-10.5"/><path d="M-11.2,-8 C-11.5,0 -7,5.3 -1.2,5.3 C4.5,5.3 9.2,0 9.6,-7.5"/><path d="M-11.4,-8 C-14.6,-9 -15.2,-3.8 -10.8,-2.6 M9.6,-7.8 C12.6,-8.6 12.8,-3.8 8.8,-2.6"/><path d="M-6.8,4 L-7.6,7.6 M3.6,4 L4.3,7.3 M-8.3,7.6 C-6,11 2.5,11 4.4,7.3"/><path d="M-8.3,7.6 C-14,8.6 -18.8,9.6 -20.6,13 L-26,24.4 M4.4,7.3 C10,8 14.8,9.2 16.8,12.5 L22.8,24.2"/></g>
<text x="720.7" y="679.5" font-family="Liberation Sans" font-size="17.8" font-weight="bold" fill="#111" text-anchor="middle" textLength="188.7" lengthAdjust="spacingAndGlyphs">Sports Education Advisor</text>
<circle cx="852.8" cy="778.5" r="41.5" fill="#ffffff" filter="url(#sh_card)"/>
<circle cx="852.8" cy="778.5" r="35.2" fill="url(#g_circ)"/>
<g transform="translate(852.3,778.5) scale(1.000,1.000)" fill="none" stroke="#7b8898" stroke-width="1.550" stroke-linecap="round" stroke-linejoin="round"><path d="M-14.9,3.2 C-19.5,-4 -19.5,-14 -13,-21.5 C-7,-27.5 5.5,-27.5 11.5,-21.5 C18,-14 18,-4 13,3.2 L9.2,2"/><path d="M-14.9,3.2 L-11,2"/><path d="M-10.4,-13.8 L-10.4,-10 C-4,-8.6 3,-8.6 9.3,-10 L9.3,-13.8"/><path d="M-10.4,-10 C-11.2,0 -6,5.6 -0.9,5.6 C4.3,5.6 9.5,0 9.3,-10"/><path d="M-10.6,-7.2 C-13.6,-7.6 -14,-3.4 -10.1,-2.4 M9.2,-7.2 C12.2,-7.6 12.4,-3.4 8.6,-2.4"/><path d="M-5.3,4.5 L-5.8,7.6 M3.5,4.5 L4,7.6"/><path d="M-13,7.8 C-8,11.5 6,11.5 10.7,7.8"/><path d="M-5.8,7.6 C-12,8.4 -17,9.2 -19.4,11 L-25.6,24 M4,7.6 C10,8.4 15,9.2 17.3,11 L23.7,24"/></g>
<text x="713.4" y="779.9" font-family="Liberation Sans" font-size="19" font-weight="bold" fill="#111" text-anchor="middle" textLength="183" lengthAdjust="spacingAndGlyphs">Media Literacy Advisor</text>
<circle cx="862.9" cy="882.8" r="41.5" fill="#ffffff" filter="url(#sh_card)"/>
<circle cx="862.9" cy="882.8" r="35.2" fill="url(#g_circ)"/>
<g transform="translate(862.4,882.8) scale(1.000,1.000)" fill="none" stroke="#7b8898" stroke-width="1.550" stroke-linecap="round" stroke-linejoin="round"><path d="M-11.5,-6.5 C-15.5,-10 -16.5,-22 -6,-23.2 C-2.5,-23.6 -0.5,-21.5 0.8,-20.2 C4,-23 13.5,-22 13,-12 C12.8,-9 11.8,-7.5 10,-6"/><path d="M-11.5,-6.5 L-11.3,-10.5 M-11.2,-7.5 C-8,-8 -6,-10 -5,-12.3 L-3.8,-10 L-2.2,-12 L-1,-10 L0.6,-12 L1.8,-9.8 C5,-8.5 8,-8 10,-7.2 L10.2,-10.5"/><path d="M-11.2,-8 C-11.5,0 -7,5.3 -1.2,5.3 C4.5,5.3 9.2,0 9.6,-7.5"/><path d="M-11.4,-8 C-14.6,-9 -15.2,-3.8 -10.8,-2.6 M9.6,-7.8 C12.6,-8.6 12.8,-3.8 8.8,-2.6"/><path d="M-6.8,4 L-7.6,7.6 M3.6,4 L4.3,7.3 M-8.3,7.6 C-6,11 2.5,11 4.4,7.3"/><path d="M-8.3,7.6 C-14,8.6 -18.8,9.6 -20.6,13 L-26,24.4 M4.4,7.3 C10,8 14.8,9.2 16.8,12.5 L22.8,24.2"/></g>
<text x="717.6" y="888.6" font-family="Liberation Sans" font-size="18.5" font-weight="bold" fill="#111" text-anchor="middle" textLength="182.7" lengthAdjust="spacingAndGlyphs">Gender Justice Advisor</text>
<circle cx="500.5" cy="677.6" r="41.5" fill="#ffffff" filter="url(#sh_card)"/>
<circle cx="500.5" cy="677.6" r="35.2" fill="url(#g_circ)"/>
<g transform="translate(500,677.6) scale(1.000,1.000)" fill="none" stroke="#7b8898" stroke-width="1.550" stroke-linecap="round" stroke-linejoin="round"><path d="M-11.5,-6.5 C-15.5,-10 -16.5,-22 -6,-23.2 C-2.5,-23.6 -0.5,-21.5 0.8,-20.2 C4,-23 13.5,-22 13,-12 C12.8,-9 11.8,-7.5 10,-6"/><path d="M-11.5,-6.5 L-11.3,-10.5 M-11.2,-7.5 C-8,-8 -6,-10 -5,-12.3 L-3.8,-10 L-2.2,-12 L-1,-10 L0.6,-12 L1.8,-9.8 C5,-8.5 8,-8 10,-7.2 L10.2,-10.5"/><path d="M-11.2,-8 C-11.5,0 -7,5.3 -1.2,5.3 C4.5,5.3 9.2,0 9.6,-7.5"/><path d="M-11.4,-8 C-14.6,-9 -15.2,-3.8 -10.8,-2.6 M9.6,-7.8 C12.6,-8.6 12.8,-3.8 8.8,-2.6"/><path d="M-6.8,4 L-7.6,7.6 M3.6,4 L4.3,7.3 M-8.3,7.6 C-6,11 2.5,11 4.4,7.3"/><path d="M-8.3,7.6 C-14,8.6 -18.8,9.6 -20.6,13 L-26,24.4 M4.4,7.3 C10,8 14.8,9.2 16.8,12.5 L22.8,24.2"/></g>
<text x="354" y="675.3" font-family="Liberation Sans" font-size="14.5" font-weight="bold" fill="#111" text-anchor="middle" textLength="126" lengthAdjust="spacingAndGlyphs">Peacebuilding and</text>
<text x="361.5" y="693.6" font-family="Liberation Sans" font-size="14.5" font-weight="bold" fill="#111" text-anchor="middle" textLength="173" lengthAdjust="spacingAndGlyphs">Human Fraternity Advisor</text>
<circle cx="490.6" cy="781.6" r="41.5" fill="#ffffff" filter="url(#sh_card)"/>
<circle cx="490.6" cy="781.6" r="35.2" fill="url(#g_circ)"/>
<g transform="translate(490.1,781.6) scale(1.000,1.000)" fill="none" stroke="#7b8898" stroke-width="1.550" stroke-linecap="round" stroke-linejoin="round"><path d="M-14.9,3.2 C-19.5,-4 -19.5,-14 -13,-21.5 C-7,-27.5 5.5,-27.5 11.5,-21.5 C18,-14 18,-4 13,3.2 L9.2,2"/><path d="M-14.9,3.2 L-11,2"/><path d="M-10.4,-13.8 L-10.4,-10 C-4,-8.6 3,-8.6 9.3,-10 L9.3,-13.8"/><path d="M-10.4,-10 C-11.2,0 -6,5.6 -0.9,5.6 C4.3,5.6 9.5,0 9.3,-10"/><path d="M-10.6,-7.2 C-13.6,-7.6 -14,-3.4 -10.1,-2.4 M9.2,-7.2 C12.2,-7.6 12.4,-3.4 8.6,-2.4"/><path d="M-5.3,4.5 L-5.8,7.6 M3.5,4.5 L4,7.6"/><path d="M-13,7.8 C-8,11.5 6,11.5 10.7,7.8"/><path d="M-5.8,7.6 C-12,8.4 -17,9.2 -19.4,11 L-25.6,24 M4,7.6 C10,8.4 15,9.2 17.3,11 L23.7,24"/></g>
<text x="354.4" y="794" font-family="Liberation Sans" font-size="15.6" font-weight="bold" fill="#111" text-anchor="middle" textLength="185" lengthAdjust="spacingAndGlyphs">Human Resources Advisor</text>
<circle cx="500.7" cy="885.2" r="41.5" fill="#ffffff" filter="url(#sh_card)"/>
<circle cx="500.7" cy="885.2" r="35.2" fill="url(#g_circ)"/>
<g transform="translate(500.2,885.2) scale(1.000,1.000)" fill="none" stroke="#7b8898" stroke-width="1.550" stroke-linecap="round" stroke-linejoin="round"><path d="M-11.5,-6.5 C-15.5,-10 -16.5,-22 -6,-23.2 C-2.5,-23.6 -0.5,-21.5 0.8,-20.2 C4,-23 13.5,-22 13,-12 C12.8,-9 11.8,-7.5 10,-6"/><path d="M-11.5,-6.5 L-11.3,-10.5 M-11.2,-7.5 C-8,-8 -6,-10 -5,-12.3 L-3.8,-10 L-2.2,-12 L-1,-10 L0.6,-12 L1.8,-9.8 C5,-8.5 8,-8 10,-7.2 L10.2,-10.5"/><path d="M-11.2,-8 C-11.5,0 -7,5.3 -1.2,5.3 C4.5,5.3 9.2,0 9.6,-7.5"/><path d="M-11.4,-8 C-14.6,-9 -15.2,-3.8 -10.8,-2.6 M9.6,-7.8 C12.6,-8.6 12.8,-3.8 8.8,-2.6"/><path d="M-6.8,4 L-7.6,7.6 M3.6,4 L4.3,7.3 M-8.3,7.6 C-6,11 2.5,11 4.4,7.3"/><path d="M-8.3,7.6 C-14,8.6 -18.8,9.6 -20.6,13 L-26,24.4 M4.4,7.3 C10,8 14.8,9.2 16.8,12.5 L22.8,24.2"/></g>
<text x="361.7" y="887.8" font-family="Liberation Sans" font-size="14.5" font-weight="bold" fill="#111" text-anchor="middle" textLength="156.7" lengthAdjust="spacingAndGlyphs">Lobbying and Advocacy</text>
<text x="352.4" y="905.5" font-family="Liberation Sans" font-size="14.5" font-weight="bold" fill="#111" text-anchor="middle" textLength="50" lengthAdjust="spacingAndGlyphs">Advisor</text>
<circle cx="567.5" cy="1011.4" r="41.5" fill="#ffffff" filter="url(#sh_card)"/>
<circle cx="567.5" cy="1011.4" r="35.2" fill="url(#g_circ)"/>
<g transform="translate(567,1011.4) scale(1.000,1.000)" fill="none" stroke="#7b8898" stroke-width="1.550" stroke-linecap="round" stroke-linejoin="round"><path d="M-11.5,-6.5 C-15.5,-10 -16.5,-22 -6,-23.2 C-2.5,-23.6 -0.5,-21.5 0.8,-20.2 C4,-23 13.5,-22 13,-12 C12.8,-9 11.8,-7.5 10,-6"/><path d="M-11.5,-6.5 L-11.3,-10.5 M-11.2,-7.5 C-8,-8 -6,-10 -5,-12.3 L-3.8,-10 L-2.2,-12 L-1,-10 L0.6,-12 L1.8,-9.8 C5,-8.5 8,-8 10,-7.2 L10.2,-10.5"/><path d="M-11.2,-8 C-11.5,0 -7,5.3 -1.2,5.3 C4.5,5.3 9.2,0 9.6,-7.5"/><path d="M-11.4,-8 C-14.6,-9 -15.2,-3.8 -10.8,-2.6 M9.6,-7.8 C12.6,-8.6 12.8,-3.8 8.8,-2.6"/><path d="M-6.8,4 L-7.6,7.6 M3.6,4 L4.3,7.3 M-8.3,7.6 C-6,11 2.5,11 4.4,7.3"/><path d="M-8.3,7.6 C-14,8.6 -18.8,9.6 -20.6,13 L-26,24.4 M4.4,7.3 C10,8 14.8,9.2 16.8,12.5 L22.8,24.2"/></g>
<text x="417.3" y="1017.6" font-family="Liberation Sans" font-size="17" font-weight="bold" fill="#111" text-anchor="middle" textLength="191.3" lengthAdjust="spacingAndGlyphs">Public Health Awareness</text>
<text x="405" y="1038.3" font-family="Liberation Sans" font-size="17" font-weight="bold" fill="#111" text-anchor="middle" textLength="60" lengthAdjust="spacingAndGlyphs">Advisor</text>
<circle cx="929.3" cy="1007.9" r="41.5" fill="#ffffff" filter="url(#sh_card)"/>
<circle cx="929.3" cy="1007.9" r="35.2" fill="url(#g_circ)"/>
<g transform="translate(928.8,1007.9) scale(1.000,1.000)" fill="none" stroke="#7b8898" stroke-width="1.550" stroke-linecap="round" stroke-linejoin="round"><path d="M-11.5,-6.5 C-15.5,-10 -16.5,-22 -6,-23.2 C-2.5,-23.6 -0.5,-21.5 0.8,-20.2 C4,-23 13.5,-22 13,-12 C12.8,-9 11.8,-7.5 10,-6"/><path d="M-11.5,-6.5 L-11.3,-10.5 M-11.2,-7.5 C-8,-8 -6,-10 -5,-12.3 L-3.8,-10 L-2.2,-12 L-1,-10 L0.6,-12 L1.8,-9.8 C5,-8.5 8,-8 10,-7.2 L10.2,-10.5"/><path d="M-11.2,-8 C-11.5,0 -7,5.3 -1.2,5.3 C4.5,5.3 9.2,0 9.6,-7.5"/><path d="M-11.4,-8 C-14.6,-9 -15.2,-3.8 -10.8,-2.6 M9.6,-7.8 C12.6,-8.6 12.8,-3.8 8.8,-2.6"/><path d="M-6.8,4 L-7.6,7.6 M3.6,4 L4.3,7.3 M-8.3,7.6 C-6,11 2.5,11 4.4,7.3"/><path d="M-8.3,7.6 C-14,8.6 -18.8,9.6 -20.6,13 L-26,24.4 M4.4,7.3 C10,8 14.8,9.2 16.8,12.5 L22.8,24.2"/></g>
<text x="784.4" y="1020" font-family="Liberation Sans" font-size="18.5" font-weight="bold" fill="#111" text-anchor="middle" textLength="191" lengthAdjust="spacingAndGlyphs">Social Inclusion Advisor</text>
<circle cx="1011.4" cy="1097.5" r="41.5" fill="#ffffff" filter="url(#sh_card)"/>
<circle cx="1011.4" cy="1097.5" r="35.2" fill="url(#g_circ)"/>
<g transform="translate(1010.9,1097.5) scale(1.000,1.000)" fill="none" stroke="#7b8898" stroke-width="1.550" stroke-linecap="round" stroke-linejoin="round"><path d="M-14.9,3.2 C-19.5,-4 -19.5,-14 -13,-21.5 C-7,-27.5 5.5,-27.5 11.5,-21.5 C18,-14 18,-4 13,3.2 L9.2,2"/><path d="M-14.9,3.2 L-11,2"/><path d="M-10.4,-13.8 L-10.4,-10 C-4,-8.6 3,-8.6 9.3,-10 L9.3,-13.8"/><path d="M-10.4,-10 C-11.2,0 -6,5.6 -0.9,5.6 C4.3,5.6 9.5,0 9.3,-10"/><path d="M-10.6,-7.2 C-13.6,-7.6 -14,-3.4 -10.1,-2.4 M9.2,-7.2 C12.2,-7.6 12.4,-3.4 8.6,-2.4"/><path d="M-5.3,4.5 L-5.8,7.6 M3.5,4.5 L4,7.6"/><path d="M-13,7.8 C-8,11.5 6,11.5 10.7,7.8"/><path d="M-5.8,7.6 C-12,8.4 -17,9.2 -19.4,11 L-25.6,24 M4,7.6 C10,8.4 15,9.2 17.3,11 L23.7,24"/></g>
<text x="865.1" y="1113.9" font-family="Liberation Sans" font-size="20" font-weight="bold" fill="#111" text-anchor="middle" textLength="181.7" lengthAdjust="spacingAndGlyphs">Youth Policy Advisor</text>
<circle cx="1670.4" cy="444" r="41.5" fill="#ffffff" filter="url(#sh_card)"/>
<circle cx="1670.4" cy="444" r="35.2" fill="url(#g_circ)"/>
<g transform="translate(1669.9,444) scale(1.000,1.000)" fill="none" stroke="#7b8898" stroke-width="1.550" stroke-linecap="round" stroke-linejoin="round"><path d="M-14.9,3.2 C-19.5,-4 -19.5,-14 -13,-21.5 C-7,-27.5 5.5,-27.5 11.5,-21.5 C18,-14 18,-4 13,3.2 L9.2,2"/><path d="M-14.9,3.2 L-11,2"/><path d="M-10.4,-13.8 L-10.4,-10 C-4,-8.6 3,-8.6 9.3,-10 L9.3,-13.8"/><path d="M-10.4,-10 C-11.2,0 -6,5.6 -0.9,5.6 C4.3,5.6 9.5,0 9.3,-10"/><path d="M-10.6,-7.2 C-13.6,-7.6 -14,-3.4 -10.1,-2.4 M9.2,-7.2 C12.2,-7.6 12.4,-3.4 8.6,-2.4"/><path d="M-5.3,4.5 L-5.8,7.6 M3.5,4.5 L4,7.6"/><path d="M-13,7.8 C-8,11.5 6,11.5 10.7,7.8"/><path d="M-5.8,7.6 C-12,8.4 -17,9.2 -19.4,11 L-25.6,24 M4,7.6 C10,8.4 15,9.2 17.3,11 L23.7,24"/></g>
<text x="1815.5" y="452.8" font-family="Liberation Sans" font-size="17" font-weight="bold" fill="#111" text-anchor="middle" textLength="189" lengthAdjust="spacingAndGlyphs">Partenerships Manager</text>
<circle cx="1751.6" cy="533.7" r="41.5" fill="#ffffff" filter="url(#sh_card)"/>
<circle cx="1751.6" cy="533.7" r="35.2" fill="url(#g_circ)"/>
<g transform="translate(1751.1,533.7) scale(1.000,1.000)" fill="none" stroke="#7b8898" stroke-width="1.550" stroke-linecap="round" stroke-linejoin="round"><path d="M-11.5,-6.5 C-15.5,-10 -16.5,-22 -6,-23.2 C-2.5,-23.6 -0.5,-21.5 0.8,-20.2 C4,-23 13.5,-22 13,-12 C12.8,-9 11.8,-7.5 10,-6"/><path d="M-11.5,-6.5 L-11.3,-10.5 M-11.2,-7.5 C-8,-8 -6,-10 -5,-12.3 L-3.8,-10 L-2.2,-12 L-1,-10 L0.6,-12 L1.8,-9.8 C5,-8.5 8,-8 10,-7.2 L10.2,-10.5"/><path d="M-11.2,-8 C-11.5,0 -7,5.3 -1.2,5.3 C4.5,5.3 9.2,0 9.6,-7.5"/><path d="M-11.4,-8 C-14.6,-9 -15.2,-3.8 -10.8,-2.6 M9.6,-7.8 C12.6,-8.6 12.8,-3.8 8.8,-2.6"/><path d="M-6.8,4 L-7.6,7.6 M3.6,4 L4.3,7.3 M-8.3,7.6 C-6,11 2.5,11 4.4,7.3"/><path d="M-8.3,7.6 C-14,8.6 -18.8,9.6 -20.6,13 L-26,24.4 M4.4,7.3 C10,8 14.8,9.2 16.8,12.5 L22.8,24.2"/></g>
<text x="1895" y="542.1" font-family="Liberation Sans" font-size="17" font-weight="bold" fill="#111" text-anchor="middle" textLength="188" lengthAdjust="spacingAndGlyphs">Communication Director</text>
<circle cx="1779.6" cy="674.5" r="41.5" fill="#ffffff" filter="url(#sh_card)"/>
<circle cx="1779.6" cy="674.5" r="35.2" fill="url(#g_circ)"/>
<g transform="translate(1779.1,674.5) scale(1.000,1.000)" fill="none" stroke="#7b8898" stroke-width="1.550" stroke-linecap="round" stroke-linejoin="round"><path d="M-11.5,-6.5 C-15.5,-10 -16.5,-22 -6,-23.2 C-2.5,-23.6 -0.5,-21.5 0.8,-20.2 C4,-23 13.5,-22 13,-12 C12.8,-9 11.8,-7.5 10,-6"/><path d="M-11.5,-6.5 L-11.3,-10.5 M-11.2,-7.5 C-8,-8 -6,-10 -5,-12.3 L-3.8,-10 L-2.2,-12 L-1,-10 L0.6,-12 L1.8,-9.8 C5,-8.5 8,-8 10,-7.2 L10.2,-10.5"/><path d="M-11.2,-8 C-11.5,0 -7,5.3 -1.2,5.3 C4.5,5.3 9.2,0 9.6,-7.5"/><path d="M-11.4,-8 C-14.6,-9 -15.2,-3.8 -10.8,-2.6 M9.6,-7.8 C12.6,-8.6 12.8,-3.8 8.8,-2.6"/><path d="M-6.8,4 L-7.6,7.6 M3.6,4 L4.3,7.3 M-8.3,7.6 C-6,11 2.5,11 4.4,7.3"/><path d="M-8.3,7.6 C-14,8.6 -18.8,9.6 -20.6,13 L-26,24.4 M4.4,7.3 C10,8 14.8,9.2 16.8,12.5 L22.8,24.2"/></g>
<text x="1920.5" y="683.9" font-family="Liberation Sans" font-size="19" font-weight="bold" fill="#111" text-anchor="middle" textLength="175" lengthAdjust="spacingAndGlyphs">Fundraising Manager</text>
<circle cx="1789" cy="779" r="41.5" fill="#ffffff" filter="url(#sh_card)"/>
<circle cx="1789" cy="779" r="35.2" fill="url(#g_circ)"/>
<g transform="translate(1788.5,779) scale(1.000,1.000)" fill="none" stroke="#7b8898" stroke-width="1.550" stroke-linecap="round" stroke-linejoin="round"><path d="M-14.9,3.2 C-19.5,-4 -19.5,-14 -13,-21.5 C-7,-27.5 5.5,-27.5 11.5,-21.5 C18,-14 18,-4 13,3.2 L9.2,2"/><path d="M-14.9,3.2 L-11,2"/><path d="M-10.4,-13.8 L-10.4,-10 C-4,-8.6 3,-8.6 9.3,-10 L9.3,-13.8"/><path d="M-10.4,-10 C-11.2,0 -6,5.6 -0.9,5.6 C4.3,5.6 9.5,0 9.3,-10"/><path d="M-10.6,-7.2 C-13.6,-7.6 -14,-3.4 -10.1,-2.4 M9.2,-7.2 C12.2,-7.6 12.4,-3.4 8.6,-2.4"/><path d="M-5.3,4.5 L-5.8,7.6 M3.5,4.5 L4,7.6"/><path d="M-13,7.8 C-8,11.5 6,11.5 10.7,7.8"/><path d="M-5.8,7.6 C-12,8.4 -17,9.2 -19.4,11 L-25.6,24 M4,7.6 C10,8.4 15,9.2 17.3,11 L23.7,24"/></g>
<text x="1927.3" y="790" font-family="Liberation Sans" font-size="14.5" font-weight="bold" fill="#111" text-anchor="middle" textLength="181.3" lengthAdjust="spacingAndGlyphs">Human Resources Manager</text>
<circle cx="1779.7" cy="883.2" r="41.5" fill="#ffffff" filter="url(#sh_card)"/>
<circle cx="1779.7" cy="883.2" r="35.2" fill="url(#g_circ)"/>
<g transform="translate(1779.2,883.2) scale(1.000,1.000)" fill="none" stroke="#7b8898" stroke-width="1.550" stroke-linecap="round" stroke-linejoin="round"><path d="M-11.5,-6.5 C-15.5,-10 -16.5,-22 -6,-23.2 C-2.5,-23.6 -0.5,-21.5 0.8,-20.2 C4,-23 13.5,-22 13,-12 C12.8,-9 11.8,-7.5 10,-6"/><path d="M-11.5,-6.5 L-11.3,-10.5 M-11.2,-7.5 C-8,-8 -6,-10 -5,-12.3 L-3.8,-10 L-2.2,-12 L-1,-10 L0.6,-12 L1.8,-9.8 C5,-8.5 8,-8 10,-7.2 L10.2,-10.5"/><path d="M-11.2,-8 C-11.5,0 -7,5.3 -1.2,5.3 C4.5,5.3 9.2,0 9.6,-7.5"/><path d="M-11.4,-8 C-14.6,-9 -15.2,-3.8 -10.8,-2.6 M9.6,-7.8 C12.6,-8.6 12.8,-3.8 8.8,-2.6"/><path d="M-6.8,4 L-7.6,7.6 M3.6,4 L4.3,7.3 M-8.3,7.6 C-6,11 2.5,11 4.4,7.3"/><path d="M-8.3,7.6 C-14,8.6 -18.8,9.6 -20.6,13 L-26,24.4 M4.4,7.3 C10,8 14.8,9.2 16.8,12.5 L22.8,24.2"/></g>
<text x="1917" y="895.5" font-family="Liberation Sans" font-size="19" font-weight="bold" fill="#111" text-anchor="middle" textLength="168" lengthAdjust="spacingAndGlyphs">Translation Manager</text>
<circle cx="2127.3" cy="684" r="41.5" fill="#ffffff" filter="url(#sh_card)"/>
<circle cx="2127.3" cy="684" r="35.2" fill="url(#g_circ)"/>
<g transform="translate(2126.8,684) scale(1.000,1.000)" fill="none" stroke="#7b8898" stroke-width="1.550" stroke-linecap="round" stroke-linejoin="round"><path d="M-11.5,-6.5 C-15.5,-10 -16.5,-22 -6,-23.2 C-2.5,-23.6 -0.5,-21.5 0.8,-20.2 C4,-23 13.5,-22 13,-12 C12.8,-9 11.8,-7.5 10,-6"/><path d="M-11.5,-6.5 L-11.3,-10.5 M-11.2,-7.5 C-8,-8 -6,-10 -5,-12.3 L-3.8,-10 L-2.2,-12 L-1,-10 L0.6,-12 L1.8,-9.8 C5,-8.5 8,-8 10,-7.2 L10.2,-10.5"/><path d="M-11.2,-8 C-11.5,0 -7,5.3 -1.2,5.3 C4.5,5.3 9.2,0 9.6,-7.5"/><path d="M-11.4,-8 C-14.6,-9 -15.2,-3.8 -10.8,-2.6 M9.6,-7.8 C12.6,-8.6 12.8,-3.8 8.8,-2.6"/><path d="M-6.8,4 L-7.6,7.6 M3.6,4 L4.3,7.3 M-8.3,7.6 C-6,11 2.5,11 4.4,7.3"/><path d="M-8.3,7.6 C-14,8.6 -18.8,9.6 -20.6,13 L-26,24.4 M4.4,7.3 C10,8 14.8,9.2 16.8,12.5 L22.8,24.2"/></g>
<text x="2264.9" y="681.5" font-family="Liberation Sans" font-size="17" font-weight="bold" fill="#111" text-anchor="middle" textLength="140.3" lengthAdjust="spacingAndGlyphs">Quality Assurance</text>
<text x="2260.5" y="702" font-family="Liberation Sans" font-size="17" font-weight="bold" fill="#111" text-anchor="middle" textLength="71" lengthAdjust="spacingAndGlyphs">Manager</text>
<circle cx="2137.5" cy="788.2" r="41.5" fill="#ffffff" filter="url(#sh_card)"/>
<circle cx="2137.5" cy="788.2" r="35.2" fill="url(#g_circ)"/>
<g transform="translate(2137,788.2) scale(1.000,1.000)" fill="none" stroke="#7b8898" stroke-width="1.550" stroke-linecap="round" stroke-linejoin="round"><path d="M-14.9,3.2 C-19.5,-4 -19.5,-14 -13,-21.5 C-7,-27.5 5.5,-27.5 11.5,-21.5 C18,-14 18,-4 13,3.2 L9.2,2"/><path d="M-14.9,3.2 L-11,2"/><path d="M-10.4,-13.8 L-10.4,-10 C-4,-8.6 3,-8.6 9.3,-10 L9.3,-13.8"/><path d="M-10.4,-10 C-11.2,0 -6,5.6 -0.9,5.6 C4.3,5.6 9.5,0 9.3,-10"/><path d="M-10.6,-7.2 C-13.6,-7.6 -14,-3.4 -10.1,-2.4 M9.2,-7.2 C12.2,-7.6 12.4,-3.4 8.6,-2.4"/><path d="M-5.3,4.5 L-5.8,7.6 M3.5,4.5 L4,7.6"/><path d="M-13,7.8 C-8,11.5 6,11.5 10.7,7.8"/><path d="M-5.8,7.6 C-12,8.4 -17,9.2 -19.4,11 L-25.6,24 M4,7.6 C10,8.4 15,9.2 17.3,11 L23.7,24"/></g>
<text x="2275.2" y="800.8" font-family="Liberation Sans" font-size="17.5" font-weight="bold" fill="#111" text-anchor="middle" textLength="183.7" lengthAdjust="spacingAndGlyphs">Youth Mobility Manager</text>
<circle cx="2127.3" cy="892.5" r="41.5" fill="#ffffff" filter="url(#sh_card)"/>
<circle cx="2127.3" cy="892.5" r="35.2" fill="url(#g_circ)"/>
<g transform="translate(2126.8,892.5) scale(1.000,1.000)" fill="none" stroke="#7b8898" stroke-width="1.550" stroke-linecap="round" stroke-linejoin="round"><path d="M-11.5,-6.5 C-15.5,-10 -16.5,-22 -6,-23.2 C-2.5,-23.6 -0.5,-21.5 0.8,-20.2 C4,-23 13.5,-22 13,-12 C12.8,-9 11.8,-7.5 10,-6"/><path d="M-11.5,-6.5 L-11.3,-10.5 M-11.2,-7.5 C-8,-8 -6,-10 -5,-12.3 L-3.8,-10 L-2.2,-12 L-1,-10 L0.6,-12 L1.8,-9.8 C5,-8.5 8,-8 10,-7.2 L10.2,-10.5"/><path d="M-11.2,-8 C-11.5,0 -7,5.3 -1.2,5.3 C4.5,5.3 9.2,0 9.6,-7.5"/><path d="M-11.4,-8 C-14.6,-9 -15.2,-3.8 -10.8,-2.6 M9.6,-7.8 C12.6,-8.6 12.8,-3.8 8.8,-2.6"/><path d="M-6.8,4 L-7.6,7.6 M3.6,4 L4.3,7.3 M-8.3,7.6 C-6,11 2.5,11 4.4,7.3"/><path d="M-8.3,7.6 C-14,8.6 -18.8,9.6 -20.6,13 L-26,24.4 M4.4,7.3 C10,8 14.8,9.2 16.8,12.5 L22.8,24.2"/></g>
<text x="2268.5" y="903.5" font-family="Liberation Sans" font-size="17.5" font-weight="bold" fill="#111" text-anchor="middle" textLength="187" lengthAdjust="spacingAndGlyphs">Alumni Relation Manger</text>
<circle cx="1713.2" cy="1007" r="41.5" fill="#ffffff" filter="url(#sh_card)"/>
<circle cx="1713.2" cy="1007" r="35.2" fill="url(#g_circ)"/>
<g transform="translate(1712.7,1007) scale(1.000,1.000)" fill="none" stroke="#7b8898" stroke-width="1.550" stroke-linecap="round" stroke-linejoin="round"><path d="M-11.5,-6.5 C-15.5,-10 -16.5,-22 -6,-23.2 C-2.5,-23.6 -0.5,-21.5 0.8,-20.2 C4,-23 13.5,-22 13,-12 C12.8,-9 11.8,-7.5 10,-6"/><path d="M-11.5,-6.5 L-11.3,-10.5 M-11.2,-7.5 C-8,-8 -6,-10 -5,-12.3 L-3.8,-10 L-2.2,-12 L-1,-10 L0.6,-12 L1.8,-9.8 C5,-8.5 8,-8 10,-7.2 L10.2,-10.5"/><path d="M-11.2,-8 C-11.5,0 -7,5.3 -1.2,5.3 C4.5,5.3 9.2,0 9.6,-7.5"/><path d="M-11.4,-8 C-14.6,-9 -15.2,-3.8 -10.8,-2.6 M9.6,-7.8 C12.6,-8.6 12.8,-3.8 8.8,-2.6"/><path d="M-6.8,4 L-7.6,7.6 M3.6,4 L4.3,7.3 M-8.3,7.6 C-6,11 2.5,11 4.4,7.3"/><path d="M-8.3,7.6 C-14,8.6 -18.8,9.6 -20.6,13 L-26,24.4 M4.4,7.3 C10,8 14.8,9.2 16.8,12.5 L22.8,24.2"/></g>
<text x="1867.5" y="1024.6" font-family="Liberation Sans" font-size="22" font-weight="bold" fill="#111" text-anchor="middle" textLength="185" lengthAdjust="spacingAndGlyphs">Logistics Manager</text>
<circle cx="1632.2" cy="1097.4" r="41.5" fill="#ffffff" filter="url(#sh_card)"/>
<circle cx="1632.2" cy="1097.4" r="35.2" fill="url(#g_circ)"/>
<g transform="translate(1631.7,1097.4) scale(1.000,1.000)" fill="none" stroke="#7b8898" stroke-width="1.550" stroke-linecap="round" stroke-linejoin="round"><path d="M-14.9,3.2 C-19.5,-4 -19.5,-14 -13,-21.5 C-7,-27.5 5.5,-27.5 11.5,-21.5 C18,-14 18,-4 13,3.2 L9.2,2"/><path d="M-14.9,3.2 L-11,2"/><path d="M-10.4,-13.8 L-10.4,-10 C-4,-8.6 3,-8.6 9.3,-10 L9.3,-13.8"/><path d="M-10.4,-10 C-11.2,0 -6,5.6 -0.9,5.6 C4.3,5.6 9.5,0 9.3,-10"/><path d="M-10.6,-7.2 C-13.6,-7.6 -14,-3.4 -10.1,-2.4 M9.2,-7.2 C12.2,-7.6 12.4,-3.4 8.6,-2.4"/><path d="M-5.3,4.5 L-5.8,7.6 M3.5,4.5 L4,7.6"/><path d="M-13,7.8 C-8,11.5 6,11.5 10.7,7.8"/><path d="M-5.8,7.6 C-12,8.4 -17,9.2 -19.4,11 L-25.6,24 M4,7.6 C10,8.4 15,9.2 17.3,11 L23.7,24"/></g>
<text x="1769.2" y="1109.6" font-family="Liberation Sans" font-size="20.6" font-weight="bold" fill="#111" text-anchor="middle" textLength="176.3" lengthAdjust="spacingAndGlyphs">Financial Manager</text>
<circle cx="2060.7" cy="1017.9" r="41.5" fill="#ffffff" filter="url(#sh_card)"/>
<circle cx="2060.7" cy="1017.9" r="35.2" fill="url(#g_circ)"/>
<g transform="translate(2060.2,1017.9) scale(1.000,1.000)" fill="none" stroke="#7b8898" stroke-width="1.550" stroke-linecap="round" stroke-linejoin="round"><path d="M-11.5,-6.5 C-15.5,-10 -16.5,-22 -6,-23.2 C-2.5,-23.6 -0.5,-21.5 0.8,-20.2 C4,-23 13.5,-22 13,-12 C12.8,-9 11.8,-7.5 10,-6"/><path d="M-11.5,-6.5 L-11.3,-10.5 M-11.2,-7.5 C-8,-8 -6,-10 -5,-12.3 L-3.8,-10 L-2.2,-12 L-1,-10 L0.6,-12 L1.8,-9.8 C5,-8.5 8,-8 10,-7.2 L10.2,-10.5"/><path d="M-11.2,-8 C-11.5,0 -7,5.3 -1.2,5.3 C4.5,5.3 9.2,0 9.6,-7.5"/><path d="M-11.4,-8 C-14.6,-9 -15.2,-3.8 -10.8,-2.6 M9.6,-7.8 C12.6,-8.6 12.8,-3.8 8.8,-2.6"/><path d="M-6.8,4 L-7.6,7.6 M3.6,4 L4.3,7.3 M-8.3,7.6 C-6,11 2.5,11 4.4,7.3"/><path d="M-8.3,7.6 C-14,8.6 -18.8,9.6 -20.6,13 L-26,24.4 M4.4,7.3 C10,8 14.8,9.2 16.8,12.5 L22.8,24.2"/></g>
<text x="2206.1" y="1022" font-family="Liberation Sans" font-size="17.5" font-weight="bold" fill="#111" text-anchor="middle" textLength="134" lengthAdjust="spacingAndGlyphs">Technology and</text>
<text x="2203.4" y="1044.6" font-family="Liberation Sans" font-size="17.5" font-weight="bold" fill="#111" text-anchor="middle" textLength="167" lengthAdjust="spacingAndGlyphs">Information System</text>
<circle cx="1979.3" cy="1107.9" r="41.5" fill="#ffffff" filter="url(#sh_card)"/>
<circle cx="1979.3" cy="1107.9" r="35.2" fill="url(#g_circ)"/>
<g transform="translate(1978.8,1107.9) scale(1.000,1.000)" fill="none" stroke="#7b8898" stroke-width="1.550" stroke-linecap="round" stroke-linejoin="round"><path d="M-14.9,3.2 C-19.5,-4 -19.5,-14 -13,-21.5 C-7,-27.5 5.5,-27.5 11.5,-21.5 C18,-14 18,-4 13,3.2 L9.2,2"/><path d="M-14.9,3.2 L-11,2"/><path d="M-10.4,-13.8 L-10.4,-10 C-4,-8.6 3,-8.6 9.3,-10 L9.3,-13.8"/><path d="M-10.4,-10 C-11.2,0 -6,5.6 -0.9,5.6 C4.3,5.6 9.5,0 9.3,-10"/><path d="M-10.6,-7.2 C-13.6,-7.6 -14,-3.4 -10.1,-2.4 M9.2,-7.2 C12.2,-7.6 12.4,-3.4 8.6,-2.4"/><path d="M-5.3,4.5 L-5.8,7.6 M3.5,4.5 L4,7.6"/><path d="M-13,7.8 C-8,11.5 6,11.5 10.7,7.8"/><path d="M-5.8,7.6 C-12,8.4 -17,9.2 -19.4,11 L-25.6,24 M4,7.6 C10,8.4 15,9.2 17.3,11 L23.7,24"/></g>
<text x="2111.9" y="1120.1" font-family="Liberation Sans" font-size="22" font-weight="bold" fill="#111" text-anchor="middle" textLength="168" lengthAdjust="spacingAndGlyphs">Project Manager</text>
<path d="M1143.5,661 L1143.5,566.3 A64.4,67.3 0 0 1 1207.9,499 L1222.2,499 A64.4,67.3 0 0 1 1286.6,566.3 L1286.6,661 Z" fill="#ffffff" stroke="#ffffff" stroke-width="10" stroke-linejoin="round" filter="url(#sh_card)"/>
<path d="M1143.5,661 L1143.5,566.3 A64.4,67.3 0 0 1 1207.9,499 L1222.2,499 A64.4,67.3 0 0 1 1286.6,566.3 L1286.6,661 Z" fill="url(#g_teal)"/>
<clipPath id="cp1143"><path d="M1143.5,661 L1143.5,566.3 A64.4,67.3 0 0 1 1207.9,499 L1222.2,499 A64.4,67.3 0 0 1 1286.6,566.3 L1286.6,661 Z"/></clipPath>
<path d="M1143.5,667 L1143.5,566.3 A64.4,67.3 0 0 1 1207.9,499 L1222.2,499 A64.4,67.3 0 0 1 1286.6,566.3 L1286.6,667 Z" fill="none" stroke="#00a8b8" stroke-opacity="0.35" stroke-width="5" clip-path="url(#cp1143)"/>
<g clip-path="url(#cp1143)"><g transform="translate(1215,581) scale(2.420,2.420)" fill="none" stroke="#ffffff" stroke-width="0.826" stroke-linecap="round" stroke-linejoin="round"><path d="M-11.4,-8.6 C-13.6,-10 -14,-12.5 -14,-15.5 C-14,-21.5 -7.5,-25.2 0.2,-25.2 C8,-25.2 14.4,-21.5 14.4,-15.5 C14.4,-12.5 13.8,-10 11.7,-9.1"/><path d="M-11.6,-12.6 L-11.4,-8.6 C-9.5,-9.5 -8.6,-11.5 -8.4,-14 C-3,-12.2 3,-12.2 8.5,-14 C8.8,-11.5 10,-9.8 11.7,-9.1 L11.8,-12.2"/><path d="M-11.4,-8.6 C-11.6,-1 -6,5.1 0,5.1 C6,5.1 11.6,-1 11.7,-9.1"/><path d="M-11.4,-9.2 C-14.6,-9.8 -15.2,-4 -11,-3.6 M11.7,-9.2 C14.8,-9.8 15.2,-4 11.1,-3.6"/><path d="M-5.2,4 L-5.2,6.3 M5.4,4 L5.4,6.3"/><path d="M-8.6,6.8 L0,13.9 L8.6,6.8 M-5.4,6.3 L0,11 L5.6,6.3 M-8.6,6.8 L-5.2,6.3 M8.6,6.8 L5.4,6.3"/><path d="M-8.6,6.8 C-13.5,7.6 -18,8.6 -20.5,11.5 L-27.2,25.5 L27.4,25.5 L21,11.5 C18.5,8.6 13.5,7.6 8.6,6.8"/></g></g>
<path d="M1350.6,660.5 L1350.6,565.7 A64.3,67.2 0 0 1 1414.9,498.5 L1429.2,498.5 A64.3,67.2 0 0 1 1493.5,565.7 L1493.5,660.5 Z" fill="#ffffff" stroke="#ffffff" stroke-width="10" stroke-linejoin="round" filter="url(#sh_card)"/>
<path d="M1350.6,660.5 L1350.6,565.7 A64.3,67.2 0 0 1 1414.9,498.5 L1429.2,498.5 A64.3,67.2 0 0 1 1493.5,565.7 L1493.5,660.5 Z" fill="url(#g_teal)"/>
<clipPath id="cp1350"><path d="M1350.6,660.5 L1350.6,565.7 A64.3,67.2 0 0 1 1414.9,498.5 L1429.2,498.5 A64.3,67.2 0 0 1 1493.5,565.7 L1493.5,660.5 Z"/></clipPath>
<path d="M1350.6,666.5 L1350.6,565.7 A64.3,67.2 0 0 1 1414.9,498.5 L1429.2,498.5 A64.3,67.2 0 0 1 1493.5,565.7 L1493.5,666.5 Z" fill="none" stroke="#00a8b8" stroke-opacity="0.35" stroke-width="5" clip-path="url(#cp1350)"/>
<g clip-path="url(#cp1350)"><g transform="translate(1422,582) scale(2.450,2.450)" fill="none" stroke="#ffffff" stroke-width="0.816" stroke-linecap="round" stroke-linejoin="round"><path d="M-13.3,-8.8 C-13.4,-12 -13.2,-16 -12.4,-18.5 C-11.8,-20 -10.8,-20.8 -10,-21 C-7,-23.5 -3,-24.2 0,-24 C4,-24 8,-23 9.8,-21.4 C11.5,-19.8 12.3,-17.5 12.5,-15.1 C12.8,-12.5 12.9,-10.5 12.9,-8.8"/><path d="M-12.4,-8.8 C-10.5,-9 -9.5,-9.6 -8.8,-10.5 C-6.5,-12.5 -4.5,-14.2 -2.7,-14.2 C-1,-14 0.2,-12.5 1.5,-11.5 C3,-10 4,-9.2 5.5,-9.1 C8,-8.9 11,-8.8 12.9,-8.8"/><path d="M-11.6,-8.8 C-11.6,0 -6,6 0,6 C6,6 10.4,0 10.2,-8.8"/><path d="M-11.6,-8.6 C-14.2,-9 -14.3,-4.8 -11.2,-4.4 M10.2,-8.6 C12.9,-9 13,-4.8 9.9,-4.4"/><path d="M10.2,-2.5 L12.5,8.7 M-8.9,2 L-2.7,17.1 L0,25"/><path d="M-4.5,5 L-4.5,7.5 M5.3,5 L5.3,7.5"/><path d="M-2.2,10 L1.8,11.7 M-2.2,11.7 L1.8,10 M-1.3,11.7 L0,25 L1.3,11.7"/><path d="M-5.3,6.5 L-9.8,17.1 L-8.9,18 L-1.2,25.5 M6.3,6.5 L8.5,14.5 L7.1,15.3 L0.8,25.5"/><path d="M-5.3,6.5 C-8,7.5 -10.5,8.4 -12.4,9.1 C-15.5,10 -18,11.5 -19.5,14 L-24.5,25.5 L25.3,25.5 L19.5,14 C18,11.5 15.5,10 12.5,9.1 C10.5,8.4 8.5,7.5 6.3,6.5"/></g></g>
<path d="M985.3,801 L985.3,729.7 A63.9,66.7 0 0 1 1049.2,663 L1063.3,663 A63.9,66.7 0 0 1 1127.2,729.7 L1127.2,801 Z" fill="#ffffff" stroke="#ffffff" stroke-width="10" stroke-linejoin="round" filter="url(#sh_card)"/>
<path d="M985.3,801 L985.3,729.7 A63.9,66.7 0 0 1 1049.2,663 L1063.3,663 A63.9,66.7 0 0 1 1127.2,729.7 L1127.2,801 Z" fill="url(#g_orange)"/>
<clipPath id="cp985"><path d="M985.3,801 L985.3,729.7 A63.9,66.7 0 0 1 1049.2,663 L1063.3,663 A63.9,66.7 0 0 1 1127.2,729.7 L1127.2,801 Z"/></clipPath>
<path d="M985.3,807 L985.3,729.7 A63.9,66.7 0 0 1 1049.2,663 L1063.3,663 A63.9,66.7 0 0 1 1127.2,729.7 L1127.2,807 Z" fill="none" stroke="#d9902a" stroke-opacity="0.35" stroke-width="5" clip-path="url(#cp985)"/>
<g clip-path="url(#cp985)"><g transform="translate(1056,748) scale(2.080,2.080)" fill="none" stroke="#ffffff" stroke-width="0.962" stroke-linecap="round" stroke-linejoin="round"><path d="M-18.6,12.8 C-22,11 -22,8 -20.7,7 C-25,3 -25,-4 -21.5,-7 C-23,-13 -19,-18 -14,-18.5 C-12,-25 -4,-28 1,-26 C6,-28.5 14,-25 15,-20 C21,-19 24,-12 22,-8 C26,-4 25.5,3 22.5,5.5 C25,9 24,13 20.6,14.2"/><path d="M-11.5,-8.4 C-6,-8.6 -2,-10 -0.1,-12.9 L-1,-8.1 C3,-8.2 6.5,-8.8 9.3,-12.1 L7.2,-6.7 C8.5,-6.2 9.8,-6.2 11,-6.2"/><path d="M-11.5,-8.4 C-12.2,1 -6,8.9 0.1,8.9 C6,8.9 11.5,2 11,-6.2"/><path d="M-11.6,-6.7 C-14.8,-7 -15.2,-2.2 -11.2,-1.6 M11,-5.6 C14.2,-6 14.4,-1.2 10.5,-0.8"/><path d="M-5.3,7.5 L-5.3,9.8 M4.9,7.5 L4.9,9.8"/><path d="M-13.8,11.3 C-8,15 7,15 13.7,11.3"/><path d="M-5.3,9.8 C-11,10.4 -15.5,11.2 -18.3,12.8 L-25.7,25.5 M4.9,9.8 C11,10.4 16,11.8 20,14.2 L25.3,25.5"/></g></g>
<path d="M1250.8,833 L1250.8,760.9 A63.3,66.1 0 0 1 1314.1,694.8 L1328.2,694.8 A63.3,66.1 0 0 1 1391.5,760.9 L1391.5,833 Z" fill="#ffffff" stroke="#ffffff" stroke-width="10" stroke-linejoin="round" filter="url(#sh_card)"/>
<path d="M1250.8,833 L1250.8,760.9 A63.3,66.1 0 0 1 1314.1,694.8 L1328.2,694.8 A63.3,66.1 0 0 1 1391.5,760.9 L1391.5,833 Z" fill="url(#g_purple)"/>
<clipPath id="cp1250"><path d="M1250.8,833 L1250.8,760.9 A63.3,66.1 0 0 1 1314.1,694.8 L1328.2,694.8 A63.3,66.1 0 0 1 1391.5,760.9 L1391.5,833 Z"/></clipPath>
<path d="M1250.8,839 L1250.8,760.9 A63.3,66.1 0 0 1 1314.1,694.8 L1328.2,694.8 A63.3,66.1 0 0 1 1391.5,760.9 L1391.5,839 Z" fill="none" stroke="#9a40d0" stroke-opacity="0.35" stroke-width="5" clip-path="url(#cp1250)"/>
<g clip-path="url(#cp1250)"><g transform="translate(1321.2,778.7) scale(2.220,2.350)" fill="none" stroke="#ffffff" stroke-width="0.875" stroke-linecap="round" stroke-linejoin="round"><path d="M-11.4,-8.6 C-13.6,-10 -14,-12.5 -14,-15.5 C-14,-21.5 -7.5,-25.2 0.2,-25.2 C8,-25.2 14.4,-21.5 14.4,-15.5 C14.4,-12.5 13.8,-10 11.7,-9.1"/><path d="M-11.6,-12.6 L-11.4,-8.6 C-9.5,-9.5 -8.6,-11.5 -8.4,-14 C-3,-12.2 3,-12.2 8.5,-14 C8.8,-11.5 10,-9.8 11.7,-9.1 L11.8,-12.2"/><path d="M-11.4,-8.6 C-11.6,-1 -6,5.1 0,5.1 C6,5.1 11.6,-1 11.7,-9.1"/><path d="M-11.4,-9.2 C-14.6,-9.8 -15.2,-4 -11,-3.6 M11.7,-9.2 C14.8,-9.8 15.2,-4 11.1,-3.6"/><path d="M-5.2,4 L-5.2,6.3 M5.4,4 L5.4,6.3"/><path d="M-8.6,6.8 L0,13.9 L8.6,6.8 M-5.4,6.3 L0,11 L5.6,6.3 M-8.6,6.8 L-5.2,6.3 M8.6,6.8 L5.4,6.3"/><path d="M-8.6,6.8 C-13.5,7.6 -18,8.6 -20.5,11.5 L-27.2,25.5 L27.4,25.5 L21,11.5 C18.5,8.6 13.5,7.6 8.6,6.8"/></g></g>
<path d="M1515,802.7 L1515,731.5 A63.7,66.5 0 0 1 1578.7,665 L1592.8,665 A63.7,66.5 0 0 1 1656.5,731.5 L1656.5,802.7 Z" fill="#ffffff" stroke="#ffffff" stroke-width="10" stroke-linejoin="round" filter="url(#sh_card)"/>
<path d="M1515,802.7 L1515,731.5 A63.7,66.5 0 0 1 1578.7,665 L1592.8,665 A63.7,66.5 0 0 1 1656.5,731.5 L1656.5,802.7 Z" fill="url(#g_orange)"/>
<clipPath id="cp1515"><path d="M1515,802.7 L1515,731.5 A63.7,66.5 0 0 1 1578.7,665 L1592.8,665 A63.7,66.5 0 0 1 1656.5,731.5 L1656.5,802.7 Z"/></clipPath>
<path d="M1515,808.7 L1515,731.5 A63.7,66.5 0 0 1 1578.7,665 L1592.8,665 A63.7,66.5 0 0 1 1656.5,731.5 L1656.5,808.7 Z" fill="none" stroke="#d9902a" stroke-opacity="0.35" stroke-width="5" clip-path="url(#cp1515)"/>
<g clip-path="url(#cp1515)"><g transform="translate(1586,742) scale(2.340,2.340)" fill="none" stroke="#ffffff" stroke-width="0.855" stroke-linecap="round" stroke-linejoin="round"><path d="M-11.4,-8.6 C-13.6,-10 -14,-12.5 -14,-15.5 C-14,-21.5 -7.5,-25.2 0.2,-25.2 C8,-25.2 14.4,-21.5 14.4,-15.5 C14.4,-12.5 13.8,-10 11.7,-9.1"/><path d="M-11.6,-12.6 L-11.4,-8.6 C-9.5,-9.5 -8.6,-11.5 -8.4,-14 C-3,-12.2 3,-12.2 8.5,-14 C8.8,-11.5 10,-9.8 11.7,-9.1 L11.8,-12.2"/><path d="M-11.4,-8.6 C-11.6,-1 -6,5.1 0,5.1 C6,5.1 11.6,-1 11.7,-9.1"/><path d="M-11.4,-9.2 C-14.6,-9.8 -15.2,-4 -11,-3.6 M11.7,-9.2 C14.8,-9.8 15.2,-4 11.1,-3.6"/><path d="M-5.2,4 L-5.2,6.3 M5.4,4 L5.4,6.3"/><path d="M-8.6,6.8 L0,13.9 L8.6,6.8 M-5.4,6.3 L0,11 L5.6,6.3 M-8.6,6.8 L-5.2,6.3 M8.6,6.8 L5.4,6.3"/><path d="M-8.6,6.8 C-13.5,7.6 -18,8.6 -20.5,11.5 L-27.2,25.5 L27.4,25.5 L21,11.5 C18.5,8.6 13.5,7.6 8.6,6.8"/></g></g>
<path d="M1094,1028.5 L1094,958.2 A63.9,66.7 0 0 1 1157.9,891.5 L1172.1,891.5 A63.9,66.7 0 0 1 1236,958.2 L1236,1028.5 Z" fill="#ffffff" stroke="#ffffff" stroke-width="10" stroke-linejoin="round" filter="url(#sh_card)"/>
<path d="M1094,1028.5 L1094,958.2 A63.9,66.7 0 0 1 1157.9,891.5 L1172.1,891.5 A63.9,66.7 0 0 1 1236,958.2 L1236,1028.5 Z" fill="url(#g_pink)"/>
<clipPath id="cp1094"><path d="M1094,1028.5 L1094,958.2 A63.9,66.7 0 0 1 1157.9,891.5 L1172.1,891.5 A63.9,66.7 0 0 1 1236,958.2 L1236,1028.5 Z"/></clipPath>
<path d="M1094,1034.5 L1094,958.2 A63.9,66.7 0 0 1 1157.9,891.5 L1172.1,891.5 A63.9,66.7 0 0 1 1236,958.2 L1236,1034.5 Z" fill="none" stroke="#d86aa8" stroke-opacity="0.35" stroke-width="5" clip-path="url(#cp1094)"/>
<g clip-path="url(#cp1094)"><g transform="translate(1165,968) scale(2.350,2.350)" fill="none" stroke="#ffffff" stroke-width="0.851" stroke-linecap="round" stroke-linejoin="round"><path d="M-8.1,4.4 L-13,6.2 C-17,0 -17.5,-10 -13,-16 C-9,-21.5 9,-21.5 13,-16 C17.5,-10 17,0 13.2,6.2 L7.7,4.8"/><path d="M-9.8,-10.6 L-9.8,-7.6 C-3,-6.2 3,-6.2 9.3,-7.6 L9.3,-10.6"/><path d="M-9.8,-7.6 C-10.5,2 -5.5,7.9 0,7.9 C5.5,7.9 10.5,2 9.3,-7.6"/><path d="M-9.9,-5.8 C-13.2,-6 -13.4,-0.8 -9.4,-0.2 M9.4,-5.8 C12.7,-6 12.9,-0.8 8.9,-0.2"/><path d="M-4.2,6.8 L-4.2,9 M4.6,6.8 L4.6,9"/><path d="M-12,10.8 C-6,14.3 6,14.3 12,10.8"/><path d="M-4.2,9 C-10,9.6 -14.5,11 -17.4,13.2 L-23.7,25.5 L23.9,25.5 L17.8,13.2 C15,11 10.5,9.6 4.6,9"/></g></g>
<path d="M1407.8,1028.5 L1407.8,958.3 A64,66.8 0 0 1 1471.8,891.5 L1486,891.5 A64,66.8 0 0 1 1550,958.3 L1550,1028.5 Z" fill="#ffffff" stroke="#ffffff" stroke-width="10" stroke-linejoin="round" filter="url(#sh_card)"/>
<path d="M1407.8,1028.5 L1407.8,958.3 A64,66.8 0 0 1 1471.8,891.5 L1486,891.5 A64,66.8 0 0 1 1550,958.3 L1550,1028.5 Z" fill="url(#g_pink)"/>
<clipPath id="cp1407"><path d="M1407.8,1028.5 L1407.8,958.3 A64,66.8 0 0 1 1471.8,891.5 L1486,891.5 A64,66.8 0 0 1 1550,958.3 L1550,1028.5 Z"/></clipPath>
<path d="M1407.8,1034.5 L1407.8,958.3 A64,66.8 0 0 1 1471.8,891.5 L1486,891.5 A64,66.8 0 0 1 1550,958.3 L1550,1034.5 Z" fill="none" stroke="#d86aa8" stroke-opacity="0.35" stroke-width="5" clip-path="url(#cp1407)"/>
<g clip-path="url(#cp1407)"><g transform="translate(1479,968) scale(2.350,2.350)" fill="none" stroke="#ffffff" stroke-width="0.851" stroke-linecap="round" stroke-linejoin="round"><path d="M-11.4,-8.6 C-13.6,-10 -14,-12.5 -14,-15.5 C-14,-21.5 -7.5,-25.2 0.2,-25.2 C8,-25.2 14.4,-21.5 14.4,-15.5 C14.4,-12.5 13.8,-10 11.7,-9.1"/><path d="M-11.6,-12.6 L-11.4,-8.6 C-9.5,-9.5 -8.6,-11.5 -8.4,-14 C-3,-12.2 3,-12.2 8.5,-14 C8.8,-11.5 10,-9.8 11.7,-9.1 L11.8,-12.2"/><path d="M-11.4,-8.6 C-11.6,-1 -6,5.1 0,5.1 C6,5.1 11.6,-1 11.7,-9.1"/><path d="M-11.4,-9.2 C-14.6,-9.8 -15.2,-4 -11,-3.6 M11.7,-9.2 C14.8,-9.8 15.2,-4 11.1,-3.6"/><path d="M-5.2,4 L-5.2,6.3 M5.4,4 L5.4,6.3"/><path d="M-8.6,6.8 L0,13.9 L8.6,6.8 M-5.4,6.3 L0,11 L5.6,6.3 M-8.6,6.8 L-5.2,6.3 M8.6,6.8 L5.4,6.3"/><path d="M-8.6,6.8 C-13.5,7.6 -18,8.6 -20.5,11.5 L-27.2,25.5 L27.4,25.5 L21,11.5 C18.5,8.6 13.5,7.6 8.6,6.8"/></g></g>
<path d="M964.7,841.5 L964.7,815.7 A10,10 0 0 1 974.7,805.7 L1137.8,805.7 A10,10 0 0 1 1147.8,815.7 L1147.8,841.5 Z" fill="#ffffff" stroke="#ffffff" stroke-width="10" stroke-linejoin="round" filter="url(#sh_card)"/>
<path d="M964.7,841.5 L964.7,815.7 A10,10 0 0 1 974.7,805.7 L1137.8,805.7 A10,10 0 0 1 1147.8,815.7 L1147.8,841.5 Z" fill="url(#g_orange)"/>
<text x="1051" y="818.9" font-family="Liberation Sans" font-size="14.8" font-weight="bold" fill="#111" text-anchor="middle" textLength="32" lengthAdjust="spacingAndGlyphs">MYF</text>
<text x="1060" y="835.1" font-family="Liberation Sans" font-size="14.8" font-weight="bold" fill="#111" text-anchor="middle" textLength="160" lengthAdjust="spacingAndGlyphs">Advisors Coordinator</text>
<path d="M1229.9,873.7 L1229.9,847.9 A10,10 0 0 1 1239.9,837.9 L1402.7,837.9 A10,10 0 0 1 1412.7,847.9 L1412.7,873.7 Z" fill="#ffffff" stroke="#ffffff" stroke-width="10" stroke-linejoin="round" filter="url(#sh_card)"/>
<path d="M1229.9,873.7 L1229.9,847.9 A10,10 0 0 1 1239.9,837.9 L1402.7,837.9 A10,10 0 0 1 1412.7,847.9 L1412.7,873.7 Z" fill="url(#g_purple)"/>
<text x="1320" y="860.7" font-family="Liberation Sans" font-size="19.6" font-weight="bold" fill="#111" text-anchor="middle" textLength="165.4" lengthAdjust="spacingAndGlyphs">Secretary General</text>
<path d="M1493.9,843.6 L1493.9,817.4 A10,10 0 0 1 1503.9,807.4 L1666.8,807.4 A10,10 0 0 1 1676.8,817.4 L1676.8,843.6 Z" fill="#ffffff" stroke="#ffffff" stroke-width="10" stroke-linejoin="round" filter="url(#sh_card)"/>
<path d="M1493.9,843.6 L1493.9,817.4 A10,10 0 0 1 1503.9,807.4 L1666.8,807.4 A10,10 0 0 1 1676.8,817.4 L1676.8,843.6 Z" fill="url(#g_orange)"/>
<text x="1587.5" y="833.5" font-family="Liberation Sans" font-size="19.6" font-weight="bold" fill="#111" text-anchor="middle" textLength="166.6" lengthAdjust="spacingAndGlyphs">Executive Director</text>
<path d="M1073.3,1070.7 L1073.3,1044.6 A10,10 0 0 1 1083.3,1034.6 L1247.1,1034.6 A10,10 0 0 1 1257.1,1044.6 L1257.1,1070.7 Z" fill="#ffffff" stroke="#ffffff" stroke-width="10" stroke-linejoin="round" filter="url(#sh_card)"/>
<path d="M1073.3,1070.7 L1073.3,1044.6 A10,10 0 0 1 1083.3,1034.6 L1247.1,1034.6 A10,10 0 0 1 1257.1,1044.6 L1257.1,1070.7 Z" fill="url(#g_pink)"/>
<text x="1169.2" y="1058.5" font-family="Liberation Sans" font-size="19" font-weight="bold" fill="#111" text-anchor="middle" textLength="134.7" lengthAdjust="spacingAndGlyphs">Board Member</text>
<path d="M1387,1070.7 L1387,1044.6 A10,10 0 0 1 1397,1034.6 L1560.5,1034.6 A10,10 0 0 1 1570.5,1044.6 L1570.5,1070.7 Z" fill="#ffffff" stroke="#ffffff" stroke-width="10" stroke-linejoin="round" filter="url(#sh_card)"/>
<path d="M1387,1070.7 L1387,1044.6 A10,10 0 0 1 1397,1034.6 L1560.5,1034.6 A10,10 0 0 1 1570.5,1044.6 L1570.5,1070.7 Z" fill="url(#g_pink)"/>
<text x="1478.5" y="1058.5" font-family="Liberation Sans" font-size="22.8" font-weight="bold" fill="#111" text-anchor="middle" textLength="99" lengthAdjust="spacingAndGlyphs">Treasurer</text>
<path d="M1222,680 L1222,653 A10,10 0 0 1 1232,643 L1398,643 A10,10 0 0 1 1408,653 L1408,680 Z" fill="#ffffff" stroke="#ffffff" stroke-width="10" stroke-linejoin="round" filter="url(#sh_card)"/>
<path d="M1222,680 L1222,653 A10,10 0 0 1 1232,643 L1398,643 A10,10 0 0 1 1408,653 L1408,680 Z" fill="url(#g_teal)"/>
<text x="1315" y="667.4" font-family="Liberation Sans" font-size="22" font-weight="bold" fill="#111" text-anchor="middle" textLength="151.4" lengthAdjust="spacingAndGlyphs">Co-Presidency</text>
<path d="M1101,403.5 L1101,367 A23,23 0 0 1 1124,344 L1498,344 A21,21 0 0 1 1519,365 L1519,403.5 Z" fill="#ffffff" stroke="#ffffff" stroke-width="6" stroke-linejoin="round" filter="url(#sh_card)"/>
<path d="M1101,403.5 L1101,367 A23,23 0 0 1 1124,344 L1498,344 A21,21 0 0 1 1519,365 L1519,403.5 Z" fill="url(#g_teal)"/>
<text x="1313.5" y="386" font-family="Liberation Sans" font-size="39" font-weight="normal" fill="#ffffff" text-anchor="middle" textLength="303" lengthAdjust="spacingAndGlyphs" stroke="#ffffff" stroke-width="1.3">MYF Organigram</text>
<path d="M1120.2,1248.7 L1120.2,1207.9 A16,16 0 0 1 1136.2,1191.9 L1447.3,1191.9 A21,21 0 0 1 1468.3,1212.9 L1468.3,1248.7 Z" fill="#ffffff" stroke="#ffffff" stroke-width="6" stroke-linejoin="round" filter="url(#sh_card)"/>
<path d="M1120.2,1248.7 L1120.2,1207.9 A16,16 0 0 1 1136.2,1191.9 L1447.3,1191.9 A21,21 0 0 1 1468.3,1212.9 L1468.3,1248.7 Z" fill="url(#g_orange)"/>
<text x="1278.5" y="1232.6" font-family="Liberation Sans" font-size="39" font-weight="bold" fill="#000000" text-anchor="middle" textLength="227" lengthAdjust="spacingAndGlyphs">MYF Interns</text>
<path d="M587.2,1447.8 L587.2,1384.4 A57.4,59.9 0 0 1 644.6,1324.5 L657.3,1324.5 A57.4,59.9 0 0 1 714.7,1384.4 L714.7,1447.8 Z" fill="#ffffff" stroke="#ffffff" stroke-width="8" stroke-linejoin="round" filter="url(#sh_card)"/>
<path d="M587.2,1447.8 L587.2,1384.4 A57.4,59.9 0 0 1 644.6,1324.5 L657.3,1324.5 A57.4,59.9 0 0 1 714.7,1384.4 L714.7,1447.8 Z" fill="url(#g_orange)"/>
<clipPath id="ci0"><path d="M587.2,1447.8 L587.2,1384.4 A57.4,59.9 0 0 1 644.6,1324.5 L657.3,1324.5 A57.4,59.9 0 0 1 714.7,1384.4 L714.7,1447.8 Z"/></clipPath>
<path d="M587.2,1454 L587.2,1384.4 A57.4,59.9 0 0 1 644.6,1324.5 L657.3,1324.5 A57.4,59.9 0 0 1 714.7,1384.4 L714.7,1454 Z" fill="none" stroke="#d9902a" stroke-opacity="0.35" stroke-width="5" clip-path="url(#ci0)"/>
<g clip-path="url(#ci0)"><g transform="translate(650.7,1394) scale(2.100,2.100)" fill="none" stroke="#ffffff" stroke-width="0.857" stroke-linecap="round" stroke-linejoin="round"><path d="M-11.4,-8.6 C-13.6,-10 -14,-12.5 -14,-15.5 C-14,-21.5 -7.5,-25.2 0.2,-25.2 C8,-25.2 14.4,-21.5 14.4,-15.5 C14.4,-12.5 13.8,-10 11.7,-9.1"/><path d="M-11.6,-12.6 L-11.4,-8.6 C-9.5,-9.5 -8.6,-11.5 -8.4,-14 C-3,-12.2 3,-12.2 8.5,-14 C8.8,-11.5 10,-9.8 11.7,-9.1 L11.8,-12.2"/><path d="M-11.4,-8.6 C-11.6,-1 -6,5.1 0,5.1 C6,5.1 11.6,-1 11.7,-9.1"/><path d="M-11.4,-9.2 C-14.6,-9.8 -15.2,-4 -11,-3.6 M11.7,-9.2 C14.8,-9.8 15.2,-4 11.1,-3.6"/><path d="M-5.2,4 L-5.2,6.3 M5.4,4 L5.4,6.3"/><path d="M-8.6,6.8 L0,13.9 L8.6,6.8 M-5.4,6.3 L0,11 L5.6,6.3 M-8.6,6.8 L-5.2,6.3 M8.6,6.8 L5.4,6.3"/><path d="M-8.6,6.8 C-13.5,7.6 -18,8.6 -20.5,11.5 L-27.2,25.5 L27.4,25.5 L21,11.5 C18.5,8.6 13.5,7.6 8.6,6.8"/></g></g>
<path d="M569.6,1484.8 L569.6,1459.8 A7,7 0 0 1 576.6,1452.8 L726,1452.8 A7,7 0 0 1 733,1459.8 L733,1484.8 Z" fill="#ffffff" stroke="#ffffff" stroke-width="8" stroke-linejoin="round" filter="url(#sh_card)"/>
<path d="M569.6,1484.8 L569.6,1459.8 A7,7 0 0 1 576.6,1452.8 L726,1452.8 A7,7 0 0 1 733,1459.8 L733,1484.8 Z" fill="url(#g_orange)"/>
<text x="649.6" y="1472.3" font-family="Liberation Sans" font-size="13.2" font-weight="normal" fill="#1a1a1a" text-anchor="middle" textLength="149" lengthAdjust="spacingAndGlyphs" stroke="#1a1a1a" stroke-width="0.45">Graphic Design Intern</text>
<path d="M784,1447.8 L784,1384.4 A57.4,59.9 0 0 1 841.4,1324.5 L854.1,1324.5 A57.4,59.9 0 0 1 911.5,1384.4 L911.5,1447.8 Z" fill="#ffffff" stroke="#ffffff" stroke-width="8" stroke-linejoin="round" filter="url(#sh_card)"/>
<path d="M784,1447.8 L784,1384.4 A57.4,59.9 0 0 1 841.4,1324.5 L854.1,1324.5 A57.4,59.9 0 0 1 911.5,1384.4 L911.5,1447.8 Z" fill="url(#g_orange)"/>
<clipPath id="ci1"><path d="M784,1447.8 L784,1384.4 A57.4,59.9 0 0 1 841.4,1324.5 L854.1,1324.5 A57.4,59.9 0 0 1 911.5,1384.4 L911.5,1447.8 Z"/></clipPath>
<path d="M784,1454 L784,1384.4 A57.4,59.9 0 0 1 841.4,1324.5 L854.1,1324.5 A57.4,59.9 0 0 1 911.5,1384.4 L911.5,1454 Z" fill="none" stroke="#d9902a" stroke-opacity="0.35" stroke-width="5" clip-path="url(#ci1)"/>
<g clip-path="url(#ci1)"><g transform="translate(847.5,1394) scale(2.100,2.100)" fill="none" stroke="#ffffff" stroke-width="0.857" stroke-linecap="round" stroke-linejoin="round"><path d="M-8.1,4.4 L-13,6.2 C-17,0 -17.5,-10 -13,-16 C-9,-21.5 9,-21.5 13,-16 C17.5,-10 17,0 13.2,6.2 L7.7,4.8"/><path d="M-9.8,-10.6 L-9.8,-7.6 C-3,-6.2 3,-6.2 9.3,-7.6 L9.3,-10.6"/><path d="M-9.8,-7.6 C-10.5,2 -5.5,7.9 0,7.9 C5.5,7.9 10.5,2 9.3,-7.6"/><path d="M-9.9,-5.8 C-13.2,-6 -13.4,-0.8 -9.4,-0.2 M9.4,-5.8 C12.7,-6 12.9,-0.8 8.9,-0.2"/><path d="M-4.2,6.8 L-4.2,9 M4.6,6.8 L4.6,9"/><path d="M-12,10.8 C-6,14.3 6,14.3 12,10.8"/><path d="M-4.2,9 C-10,9.6 -14.5,11 -17.4,13.2 L-23.7,25.5 L23.9,25.5 L17.8,13.2 C15,11 10.5,9.6 4.6,9"/></g></g>
<path d="M766,1484.8 L766,1459.8 A7,7 0 0 1 773,1452.8 L923,1452.8 A7,7 0 0 1 930,1459.8 L930,1484.8 Z" fill="#ffffff" stroke="#ffffff" stroke-width="8" stroke-linejoin="round" filter="url(#sh_card)"/>
<path d="M766,1484.8 L766,1459.8 A7,7 0 0 1 773,1452.8 L923,1452.8 A7,7 0 0 1 930,1459.8 L930,1484.8 Z" fill="url(#g_orange)"/>
<text x="846.1" y="1474" font-family="Liberation Sans" font-size="14.5" font-weight="normal" fill="#1a1a1a" text-anchor="middle" textLength="140.3" lengthAdjust="spacingAndGlyphs" stroke="#1a1a1a" stroke-width="0.45">Video Editor Intern</text>
<path d="M978,1447.8 L978,1384.4 A57.4,59.9 0 0 1 1035.4,1324.5 L1048.1,1324.5 A57.4,59.9 0 0 1 1105.5,1384.4 L1105.5,1447.8 Z" fill="#ffffff" stroke="#ffffff" stroke-width="8" stroke-linejoin="round" filter="url(#sh_card)"/>
<path d="M978,1447.8 L978,1384.4 A57.4,59.9 0 0 1 1035.4,1324.5 L1048.1,1324.5 A57.4,59.9 0 0 1 1105.5,1384.4 L1105.5,1447.8 Z" fill="url(#g_orange)"/>
<clipPath id="ci2"><path d="M978,1447.8 L978,1384.4 A57.4,59.9 0 0 1 1035.4,1324.5 L1048.1,1324.5 A57.4,59.9 0 0 1 1105.5,1384.4 L1105.5,1447.8 Z"/></clipPath>
<path d="M978,1454 L978,1384.4 A57.4,59.9 0 0 1 1035.4,1324.5 L1048.1,1324.5 A57.4,59.9 0 0 1 1105.5,1384.4 L1105.5,1454 Z" fill="none" stroke="#d9902a" stroke-opacity="0.35" stroke-width="5" clip-path="url(#ci2)"/>
<g clip-path="url(#ci2)"><g transform="translate(1041.5,1394) scale(2.100,2.100)" fill="none" stroke="#ffffff" stroke-width="0.857" stroke-linecap="round" stroke-linejoin="round"><path d="M-11.4,-8.6 C-13.6,-10 -14,-12.5 -14,-15.5 C-14,-21.5 -7.5,-25.2 0.2,-25.2 C8,-25.2 14.4,-21.5 14.4,-15.5 C14.4,-12.5 13.8,-10 11.7,-9.1"/><path d="M-11.6,-12.6 L-11.4,-8.6 C-9.5,-9.5 -8.6,-11.5 -8.4,-14 C-3,-12.2 3,-12.2 8.5,-14 C8.8,-11.5 10,-9.8 11.7,-9.1 L11.8,-12.2"/><path d="M-11.4,-8.6 C-11.6,-1 -6,5.1 0,5.1 C6,5.1 11.6,-1 11.7,-9.1"/><path d="M-11.4,-9.2 C-14.6,-9.8 -15.2,-4 -11,-3.6 M11.7,-9.2 C14.8,-9.8 15.2,-4 11.1,-3.6"/><path d="M-5.2,4 L-5.2,6.3 M5.4,4 L5.4,6.3"/><path d="M-8.6,6.8 L0,13.9 L8.6,6.8 M-5.4,6.3 L0,11 L5.6,6.3 M-8.6,6.8 L-5.2,6.3 M8.6,6.8 L5.4,6.3"/><path d="M-8.6,6.8 C-13.5,7.6 -18,8.6 -20.5,11.5 L-27.2,25.5 L27.4,25.5 L21,11.5 C18.5,8.6 13.5,7.6 8.6,6.8"/></g></g>
<path d="M959.6,1484.8 L959.6,1459.8 A7,7 0 0 1 966.6,1452.8 L1116.8,1452.8 A7,7 0 0 1 1123.8,1459.8 L1123.8,1484.8 Z" fill="#ffffff" stroke="#ffffff" stroke-width="8" stroke-linejoin="round" filter="url(#sh_card)"/>
<path d="M959.6,1484.8 L959.6,1459.8 A7,7 0 0 1 966.6,1452.8 L1116.8,1452.8 A7,7 0 0 1 1123.8,1459.8 L1123.8,1484.8 Z" fill="url(#g_orange)"/>
<text x="1041" y="1472.3" font-family="Liberation Sans" font-size="13.7" font-weight="normal" fill="#1a1a1a" text-anchor="middle" textLength="142" lengthAdjust="spacingAndGlyphs" stroke="#1a1a1a" stroke-width="0.45">Photographer Intern</text>
<path d="M1171.5,1447.8 L1171.5,1384.4 A57.4,59.9 0 0 1 1228.9,1324.5 L1241.6,1324.5 A57.4,59.9 0 0 1 1299,1384.4 L1299,1447.8 Z" fill="#ffffff" stroke="#ffffff" stroke-width="8" stroke-linejoin="round" filter="url(#sh_card)"/>
<path d="M1171.5,1447.8 L1171.5,1384.4 A57.4,59.9 0 0 1 1228.9,1324.5 L1241.6,1324.5 A57.4,59.9 0 0 1 1299,1384.4 L1299,1447.8 Z" fill="url(#g_orange)"/>
<clipPath id="ci3"><path d="M1171.5,1447.8 L1171.5,1384.4 A57.4,59.9 0 0 1 1228.9,1324.5 L1241.6,1324.5 A57.4,59.9 0 0 1 1299,1384.4 L1299,1447.8 Z"/></clipPath>
<path d="M1171.5,1454 L1171.5,1384.4 A57.4,59.9 0 0 1 1228.9,1324.5 L1241.6,1324.5 A57.4,59.9 0 0 1 1299,1384.4 L1299,1454 Z" fill="none" stroke="#d9902a" stroke-opacity="0.35" stroke-width="5" clip-path="url(#ci3)"/>
<g clip-path="url(#ci3)"><g transform="translate(1235,1394) scale(2.100,2.100)" fill="none" stroke="#ffffff" stroke-width="0.857" stroke-linecap="round" stroke-linejoin="round"><path d="M-8.1,4.4 L-13,6.2 C-17,0 -17.5,-10 -13,-16 C-9,-21.5 9,-21.5 13,-16 C17.5,-10 17,0 13.2,6.2 L7.7,4.8"/><path d="M-9.8,-10.6 L-9.8,-7.6 C-3,-6.2 3,-6.2 9.3,-7.6 L9.3,-10.6"/><path d="M-9.8,-7.6 C-10.5,2 -5.5,7.9 0,7.9 C5.5,7.9 10.5,2 9.3,-7.6"/><path d="M-9.9,-5.8 C-13.2,-6 -13.4,-0.8 -9.4,-0.2 M9.4,-5.8 C12.7,-6 12.9,-0.8 8.9,-0.2"/><path d="M-4.2,6.8 L-4.2,9 M4.6,6.8 L4.6,9"/><path d="M-12,10.8 C-6,14.3 6,14.3 12,10.8"/><path d="M-4.2,9 C-10,9.6 -14.5,11 -17.4,13.2 L-23.7,25.5 L23.9,25.5 L17.8,13.2 C15,11 10.5,9.6 4.6,9"/></g></g>
<path d="M1153.9,1484.8 L1153.9,1459.8 A7,7 0 0 1 1160.9,1452.8 L1310,1452.8 A7,7 0 0 1 1317,1459.8 L1317,1484.8 Z" fill="#ffffff" stroke="#ffffff" stroke-width="8" stroke-linejoin="round" filter="url(#sh_card)"/>
<path d="M1153.9,1484.8 L1153.9,1459.8 A7,7 0 0 1 1160.9,1452.8 L1310,1452.8 A7,7 0 0 1 1317,1459.8 L1317,1484.8 Z" fill="url(#g_orange)"/>
<text x="1232.5" y="1466.4" font-family="Liberation Sans" font-size="12" font-weight="normal" fill="#1a1a1a" text-anchor="middle" textLength="120.4" lengthAdjust="spacingAndGlyphs" stroke="#1a1a1a" stroke-width="0.45">Project Coordinator</text>
<text x="1232.2" y="1480.1" font-family="Liberation Sans" font-size="12" font-weight="normal" fill="#1a1a1a" text-anchor="middle" textLength="30.9" lengthAdjust="spacingAndGlyphs" stroke="#1a1a1a" stroke-width="0.45">Intern</text>
<path d="M1365.3,1447.8 L1365.3,1384.4 A57.4,59.9 0 0 1 1422.7,1324.5 L1435.4,1324.5 A57.4,59.9 0 0 1 1492.8,1384.4 L1492.8,1447.8 Z" fill="#ffffff" stroke="#ffffff" stroke-width="8" stroke-linejoin="round" filter="url(#sh_card)"/>
<path d="M1365.3,1447.8 L1365.3,1384.4 A57.4,59.9 0 0 1 1422.7,1324.5 L1435.4,1324.5 A57.4,59.9 0 0 1 1492.8,1384.4 L1492.8,1447.8 Z" fill="url(#g_orange)"/>
<clipPath id="ci4"><path d="M1365.3,1447.8 L1365.3,1384.4 A57.4,59.9 0 0 1 1422.7,1324.5 L1435.4,1324.5 A57.4,59.9 0 0 1 1492.8,1384.4 L1492.8,1447.8 Z"/></clipPath>
<path d="M1365.3,1454 L1365.3,1384.4 A57.4,59.9 0 0 1 1422.7,1324.5 L1435.4,1324.5 A57.4,59.9 0 0 1 1492.8,1384.4 L1492.8,1454 Z" fill="none" stroke="#d9902a" stroke-opacity="0.35" stroke-width="5" clip-path="url(#ci4)"/>
<g clip-path="url(#ci4)"><g transform="translate(1428.8,1394) scale(2.100,2.100)" fill="none" stroke="#ffffff" stroke-width="0.857" stroke-linecap="round" stroke-linejoin="round"><path d="M-11.4,-8.6 C-13.6,-10 -14,-12.5 -14,-15.5 C-14,-21.5 -7.5,-25.2 0.2,-25.2 C8,-25.2 14.4,-21.5 14.4,-15.5 C14.4,-12.5 13.8,-10 11.7,-9.1"/><path d="M-11.6,-12.6 L-11.4,-8.6 C-9.5,-9.5 -8.6,-11.5 -8.4,-14 C-3,-12.2 3,-12.2 8.5,-14 C8.8,-11.5 10,-9.8 11.7,-9.1 L11.8,-12.2"/><path d="M-11.4,-8.6 C-11.6,-1 -6,5.1 0,5.1 C6,5.1 11.6,-1 11.7,-9.1"/><path d="M-11.4,-9.2 C-14.6,-9.8 -15.2,-4 -11,-3.6 M11.7,-9.2 C14.8,-9.8 15.2,-4 11.1,-3.6"/><path d="M-5.2,4 L-5.2,6.3 M5.4,4 L5.4,6.3"/><path d="M-8.6,6.8 L0,13.9 L8.6,6.8 M-5.4,6.3 L0,11 L5.6,6.3 M-8.6,6.8 L-5.2,6.3 M8.6,6.8 L5.4,6.3"/><path d="M-8.6,6.8 C-13.5,7.6 -18,8.6 -20.5,11.5 L-27.2,25.5 L27.4,25.5 L21,11.5 C18.5,8.6 13.5,7.6 8.6,6.8"/></g></g>
<path d="M1346.3,1484.8 L1346.3,1459.8 A7,7 0 0 1 1353.3,1452.8 L1503.8,1452.8 A7,7 0 0 1 1510.8,1459.8 L1510.8,1484.8 Z" fill="#ffffff" stroke="#ffffff" stroke-width="8" stroke-linejoin="round" filter="url(#sh_card)"/>
<path d="M1346.3,1484.8 L1346.3,1459.8 A7,7 0 0 1 1353.3,1452.8 L1503.8,1452.8 A7,7 0 0 1 1510.8,1459.8 L1510.8,1484.8 Z" fill="url(#g_orange)"/>
<text x="1427.9" y="1465.1" font-family="Liberation Sans" font-size="12.2" font-weight="normal" fill="#1a1a1a" text-anchor="middle" textLength="140.3" lengthAdjust="spacingAndGlyphs" stroke="#1a1a1a" stroke-width="0.45">Social Media Specialist</text>
<text x="1428.7" y="1478.9" font-family="Liberation Sans" font-size="12.2" font-weight="normal" fill="#1a1a1a" text-anchor="middle" textLength="36" lengthAdjust="spacingAndGlyphs" stroke="#1a1a1a" stroke-width="0.45">Intern</text>
<path d="M1555.7,1447.8 L1555.7,1384.4 A57.4,59.9 0 0 1 1613.1,1324.5 L1625.8,1324.5 A57.4,59.9 0 0 1 1683.2,1384.4 L1683.2,1447.8 Z" fill="#ffffff" stroke="#ffffff" stroke-width="8" stroke-linejoin="round" filter="url(#sh_card)"/>
<path d="M1555.7,1447.8 L1555.7,1384.4 A57.4,59.9 0 0 1 1613.1,1324.5 L1625.8,1324.5 A57.4,59.9 0 0 1 1683.2,1384.4 L1683.2,1447.8 Z" fill="url(#g_orange)"/>
<clipPath id="ci5"><path d="M1555.7,1447.8 L1555.7,1384.4 A57.4,59.9 0 0 1 1613.1,1324.5 L1625.8,1324.5 A57.4,59.9 0 0 1 1683.2,1384.4 L1683.2,1447.8 Z"/></clipPath>
<path d="M1555.7,1454 L1555.7,1384.4 A57.4,59.9 0 0 1 1613.1,1324.5 L1625.8,1324.5 A57.4,59.9 0 0 1 1683.2,1384.4 L1683.2,1454 Z" fill="none" stroke="#d9902a" stroke-opacity="0.35" stroke-width="5" clip-path="url(#ci5)"/>
<g clip-path="url(#ci5)"><g transform="translate(1619.2,1394) scale(2.100,2.100)" fill="none" stroke="#ffffff" stroke-width="0.857" stroke-linecap="round" stroke-linejoin="round"><path d="M-8.1,4.4 L-13,6.2 C-17,0 -17.5,-10 -13,-16 C-9,-21.5 9,-21.5 13,-16 C17.5,-10 17,0 13.2,6.2 L7.7,4.8"/><path d="M-9.8,-10.6 L-9.8,-7.6 C-3,-6.2 3,-6.2 9.3,-7.6 L9.3,-10.6"/><path d="M-9.8,-7.6 C-10.5,2 -5.5,7.9 0,7.9 C5.5,7.9 10.5,2 9.3,-7.6"/><path d="M-9.9,-5.8 C-13.2,-6 -13.4,-0.8 -9.4,-0.2 M9.4,-5.8 C12.7,-6 12.9,-0.8 8.9,-0.2"/><path d="M-4.2,6.8 L-4.2,9 M4.6,6.8 L4.6,9"/><path d="M-12,10.8 C-6,14.3 6,14.3 12,10.8"/><path d="M-4.2,9 C-10,9.6 -14.5,11 -17.4,13.2 L-23.7,25.5 L23.9,25.5 L17.8,13.2 C15,11 10.5,9.6 4.6,9"/></g></g>
<path d="M1537,1484.8 L1537,1459.8 A7,7 0 0 1 1544,1452.8 L1694.3,1452.8 A7,7 0 0 1 1701.3,1459.8 L1701.3,1484.8 Z" fill="#ffffff" stroke="#ffffff" stroke-width="8" stroke-linejoin="round" filter="url(#sh_card)"/>
<path d="M1537,1484.8 L1537,1459.8 A7,7 0 0 1 1544,1452.8 L1694.3,1452.8 A7,7 0 0 1 1701.3,1459.8 L1701.3,1484.8 Z" fill="url(#g_orange)"/>
<text x="1621.1" y="1466.4" font-family="Liberation Sans" font-size="12" font-weight="normal" fill="#1a1a1a" text-anchor="middle" textLength="150.3" lengthAdjust="spacingAndGlyphs" stroke="#1a1a1a" stroke-width="0.45">Administrative Specialist</text>
<text x="1621.3" y="1480.1" font-family="Liberation Sans" font-size="12" font-weight="normal" fill="#1a1a1a" text-anchor="middle" textLength="36.2" lengthAdjust="spacingAndGlyphs" stroke="#1a1a1a" stroke-width="0.45">Intern</text>
<path d="M1744.3,1447.8 L1744.3,1384.4 A57.4,59.9 0 0 1 1801.7,1324.5 L1814.4,1324.5 A57.4,59.9 0 0 1 1871.8,1384.4 L1871.8,1447.8 Z" fill="#ffffff" stroke="#ffffff" stroke-width="8" stroke-linejoin="round" filter="url(#sh_card)"/>
<path d="M1744.3,1447.8 L1744.3,1384.4 A57.4,59.9 0 0 1 1801.7,1324.5 L1814.4,1324.5 A57.4,59.9 0 0 1 1871.8,1384.4 L1871.8,1447.8 Z" fill="url(#g_orange)"/>
<clipPath id="ci6"><path d="M1744.3,1447.8 L1744.3,1384.4 A57.4,59.9 0 0 1 1801.7,1324.5 L1814.4,1324.5 A57.4,59.9 0 0 1 1871.8,1384.4 L1871.8,1447.8 Z"/></clipPath>
<path d="M1744.3,1454 L1744.3,1384.4 A57.4,59.9 0 0 1 1801.7,1324.5 L1814.4,1324.5 A57.4,59.9 0 0 1 1871.8,1384.4 L1871.8,1454 Z" fill="none" stroke="#d9902a" stroke-opacity="0.35" stroke-width="5" clip-path="url(#ci6)"/>
<g clip-path="url(#ci6)"><g transform="translate(1807.8,1394) scale(2.100,2.100)" fill="none" stroke="#ffffff" stroke-width="0.857" stroke-linecap="round" stroke-linejoin="round"><path d="M-11.4,-8.6 C-13.6,-10 -14,-12.5 -14,-15.5 C-14,-21.5 -7.5,-25.2 0.2,-25.2 C8,-25.2 14.4,-21.5 14.4,-15.5 C14.4,-12.5 13.8,-10 11.7,-9.1"/><path d="M-11.6,-12.6 L-11.4,-8.6 C-9.5,-9.5 -8.6,-11.5 -8.4,-14 C-3,-12.2 3,-12.2 8.5,-14 C8.8,-11.5 10,-9.8 11.7,-9.1 L11.8,-12.2"/><path d="M-11.4,-8.6 C-11.6,-1 -6,5.1 0,5.1 C6,5.1 11.6,-1 11.7,-9.1"/><path d="M-11.4,-9.2 C-14.6,-9.8 -15.2,-4 -11,-3.6 M11.7,-9.2 C14.8,-9.8 15.2,-4 11.1,-3.6"/><path d="M-5.2,4 L-5.2,6.3 M5.4,4 L5.4,6.3"/><path d="M-8.6,6.8 L0,13.9 L8.6,6.8 M-5.4,6.3 L0,11 L5.6,6.3 M-8.6,6.8 L-5.2,6.3 M8.6,6.8 L5.4,6.3"/><path d="M-8.6,6.8 C-13.5,7.6 -18,8.6 -20.5,11.5 L-27.2,25.5 L27.4,25.5 L21,11.5 C18.5,8.6 13.5,7.6 8.6,6.8"/></g></g>
<path d="M1725.3,1484.8 L1725.3,1459.8 A7,7 0 0 1 1732.3,1452.8 L1882.4,1452.8 A7,7 0 0 1 1889.4,1459.8 L1889.4,1484.8 Z" fill="#ffffff" stroke="#ffffff" stroke-width="8" stroke-linejoin="round" filter="url(#sh_card)"/>
<path d="M1725.3,1484.8 L1725.3,1459.8 A7,7 0 0 1 1732.3,1452.8 L1882.4,1452.8 A7,7 0 0 1 1889.4,1459.8 L1889.4,1484.8 Z" fill="url(#g_orange)"/>
<text x="1804.5" y="1473.4" font-family="Liberation Sans" font-size="17.5" font-weight="normal" fill="#1a1a1a" text-anchor="middle" textLength="141" lengthAdjust="spacingAndGlyphs" stroke="#1a1a1a" stroke-width="0.45">Translator Intern</text>
<path d="M1934.6,1447.8 L1934.6,1384.4 A57.4,59.9 0 0 1 1992,1324.5 L2004.7,1324.5 A57.4,59.9 0 0 1 2062.1,1384.4 L2062.1,1447.8 Z" fill="#ffffff" stroke="#ffffff" stroke-width="8" stroke-linejoin="round" filter="url(#sh_card)"/>
<path d="M1934.6,1447.8 L1934.6,1384.4 A57.4,59.9 0 0 1 1992,1324.5 L2004.7,1324.5 A57.4,59.9 0 0 1 2062.1,1384.4 L2062.1,1447.8 Z" fill="url(#g_orange)"/>
<clipPath id="ci7"><path d="M1934.6,1447.8 L1934.6,1384.4 A57.4,59.9 0 0 1 1992,1324.5 L2004.7,1324.5 A57.4,59.9 0 0 1 2062.1,1384.4 L2062.1,1447.8 Z"/></clipPath>
<path d="M1934.6,1454 L1934.6,1384.4 A57.4,59.9 0 0 1 1992,1324.5 L2004.7,1324.5 A57.4,59.9 0 0 1 2062.1,1384.4 L2062.1,1454 Z" fill="none" stroke="#d9902a" stroke-opacity="0.35" stroke-width="5" clip-path="url(#ci7)"/>
<g clip-path="url(#ci7)"><g transform="translate(1998.1,1394) scale(2.100,2.100)" fill="none" stroke="#ffffff" stroke-width="0.857" stroke-linecap="round" stroke-linejoin="round"><path d="M-8.1,4.4 L-13,6.2 C-17,0 -17.5,-10 -13,-16 C-9,-21.5 9,-21.5 13,-16 C17.5,-10 17,0 13.2,6.2 L7.7,4.8"/><path d="M-9.8,-10.6 L-9.8,-7.6 C-3,-6.2 3,-6.2 9.3,-7.6 L9.3,-10.6"/><path d="M-9.8,-7.6 C-10.5,2 -5.5,7.9 0,7.9 C5.5,7.9 10.5,2 9.3,-7.6"/><path d="M-9.9,-5.8 C-13.2,-6 -13.4,-0.8 -9.4,-0.2 M9.4,-5.8 C12.7,-6 12.9,-0.8 8.9,-0.2"/><path d="M-4.2,6.8 L-4.2,9 M4.6,6.8 L4.6,9"/><path d="M-12,10.8 C-6,14.3 6,14.3 12,10.8"/><path d="M-4.2,9 C-10,9.6 -14.5,11 -17.4,13.2 L-23.7,25.5 L23.9,25.5 L17.8,13.2 C15,11 10.5,9.6 4.6,9"/></g></g>
<path d="M1916,1484.8 L1916,1459.8 A7,7 0 0 1 1923,1452.8 L2073,1452.8 A7,7 0 0 1 2080,1459.8 L2080,1484.8 Z" fill="#ffffff" stroke="#ffffff" stroke-width="8" stroke-linejoin="round" filter="url(#sh_card)"/>
<path d="M1916,1484.8 L1916,1459.8 A7,7 0 0 1 1923,1452.8 L2073,1452.8 A7,7 0 0 1 2080,1459.8 L2080,1484.8 Z" fill="url(#g_orange)"/>
<text x="2000" y="1472.3" font-family="Liberation Sans" font-size="15" font-weight="normal" fill="#1a1a1a" text-anchor="middle" textLength="140" lengthAdjust="spacingAndGlyphs" stroke="#1a1a1a" stroke-width="0.45">Desk Officer Intern</text>
<path d="M2128.4,1447.8 L2128.4,1384.4 A57.4,59.9 0 0 1 2185.8,1324.5 L2198.5,1324.5 A57.4,59.9 0 0 1 2255.9,1384.4 L2255.9,1447.8 Z" fill="#ffffff" stroke="#ffffff" stroke-width="8" stroke-linejoin="round" filter="url(#sh_card)"/>
<path d="M2128.4,1447.8 L2128.4,1384.4 A57.4,59.9 0 0 1 2185.8,1324.5 L2198.5,1324.5 A57.4,59.9 0 0 1 2255.9,1384.4 L2255.9,1447.8 Z" fill="url(#g_orange)"/>
<clipPath id="ci8"><path d="M2128.4,1447.8 L2128.4,1384.4 A57.4,59.9 0 0 1 2185.8,1324.5 L2198.5,1324.5 A57.4,59.9 0 0 1 2255.9,1384.4 L2255.9,1447.8 Z"/></clipPath>
<path d="M2128.4,1454 L2128.4,1384.4 A57.4,59.9 0 0 1 2185.8,1324.5 L2198.5,1324.5 A57.4,59.9 0 0 1 2255.9,1384.4 L2255.9,1454 Z" fill="none" stroke="#d9902a" stroke-opacity="0.35" stroke-width="5" clip-path="url(#ci8)"/>
<g clip-path="url(#ci8)"><g transform="translate(2191.9,1394) scale(2.100,2.100)" fill="none" stroke="#ffffff" stroke-width="0.857" stroke-linecap="round" stroke-linejoin="round"><path d="M-11.4,-8.6 C-13.6,-10 -14,-12.5 -14,-15.5 C-14,-21.5 -7.5,-25.2 0.2,-25.2 C8,-25.2 14.4,-21.5 14.4,-15.5 C14.4,-12.5 13.8,-10 11.7,-9.1"/><path d="M-11.6,-12.6 L-11.4,-8.6 C-9.5,-9.5 -8.6,-11.5 -8.4,-14 C-3,-12.2 3,-12.2 8.5,-14 C8.8,-11.5 10,-9.8 11.7,-9.1 L11.8,-12.2"/><path d="M-11.4,-8.6 C-11.6,-1 -6,5.1 0,5.1 C6,5.1 11.6,-1 11.7,-9.1"/><path d="M-11.4,-9.2 C-14.6,-9.8 -15.2,-4 -11,-3.6 M11.7,-9.2 C14.8,-9.8 15.2,-4 11.1,-3.6"/><path d="M-5.2,4 L-5.2,6.3 M5.4,4 L5.4,6.3"/><path d="M-8.6,6.8 L0,13.9 L8.6,6.8 M-5.4,6.3 L0,11 L5.6,6.3 M-8.6,6.8 L-5.2,6.3 M8.6,6.8 L5.4,6.3"/><path d="M-8.6,6.8 C-13.5,7.6 -18,8.6 -20.5,11.5 L-27.2,25.5 L27.4,25.5 L21,11.5 C18.5,8.6 13.5,7.6 8.6,6.8"/></g></g>
<path d="M2110.2,1484.8 L2110.2,1459.8 A7,7 0 0 1 2117.2,1452.8 L2266.7,1452.8 A7,7 0 0 1 2273.7,1459.8 L2273.7,1484.8 Z" fill="#ffffff" stroke="#ffffff" stroke-width="8" stroke-linejoin="round" filter="url(#sh_card)"/>
<path d="M2110.2,1484.8 L2110.2,1459.8 A7,7 0 0 1 2117.2,1452.8 L2266.7,1452.8 A7,7 0 0 1 2273.7,1459.8 L2273.7,1484.8 Z" fill="url(#g_orange)"/>
<text x="2191.4" y="1466.4" font-family="Liberation Sans" font-size="12" font-weight="normal" fill="#1a1a1a" text-anchor="middle" textLength="132.7" lengthAdjust="spacingAndGlyphs" stroke="#1a1a1a" stroke-width="0.45">Partnership Specialist</text>
<text x="2191.9" y="1480.1" font-family="Liberation Sans" font-size="12" font-weight="normal" fill="#1a1a1a" text-anchor="middle" textLength="36" lengthAdjust="spacingAndGlyphs" stroke="#1a1a1a" stroke-width="0.45">Intern</text>
</svg>
</body></html>
